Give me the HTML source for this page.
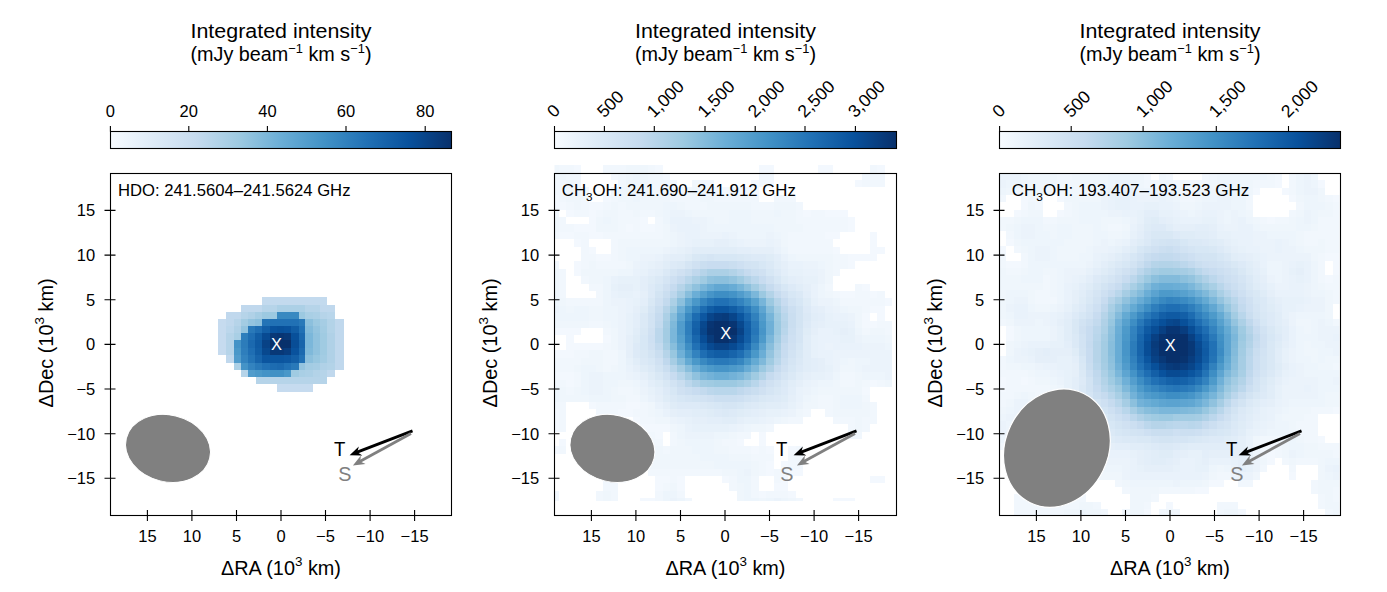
<!DOCTYPE html><html><head><meta charset="utf-8"><style>html,body{margin:0;padding:0;background:#fff;overflow:hidden}svg{display:block}</style></head><body>
<svg width="1387" height="592" viewBox="0 0 1387 592" font-family="Liberation Sans">
<defs><linearGradient id="gb" x1="0" x2="1" y1="0" y2="0"><stop offset="0.000" stop-color="#f7fbff"/><stop offset="0.125" stop-color="#deebf7"/><stop offset="0.250" stop-color="#c6dbef"/><stop offset="0.375" stop-color="#9ecae1"/><stop offset="0.500" stop-color="#6baed6"/><stop offset="0.625" stop-color="#4292c6"/><stop offset="0.750" stop-color="#2171b5"/><stop offset="0.875" stop-color="#08519c"/><stop offset="1.000" stop-color="#08306b"/></linearGradient></defs>
<g shape-rendering="crispEdges">
<path fill="#c6dbef" d="M218.1 319.1h8.3v6.8h-8.3zM218.1 325.9h8.3v7.2h-8.3zM218.1 333.1h8.3v7.3h-8.3zM218.1 340.4h8.3v7.4h-8.3zM218.1 347.8h8.3v7.5h-8.3zM276.8 383.8h35.8v7.7h-35.8z"/>
<path fill="#c3daee" d="M262.3 297.1h64.7v7.7h-64.7z"/>
<path fill="#c0d8ed" d="M241.1 304.8h21.2v6.9h-21.2zM319.8 304.8h15.0v6.9h-15.0zM226.4 311.7h14.7v7.4h-14.7zM226.4 319.1h7.4v6.8h-7.4zM334.8 319.1h8.7v6.8h-8.7zM334.8 325.9h8.7v7.2h-8.7zM334.8 333.1h8.7v7.3h-8.7zM334.8 340.4h8.7v7.4h-8.7zM334.8 347.8h8.7v7.5h-8.7zM226.4 355.3h7.4v7.3h-7.4zM334.8 355.3h8.7v7.3h-8.7zM334.8 362.6h8.7v6.9h-8.7zM327 369.5h7.8v7.2h-7.8z"/>
<path fill="#bcd7ec" d="M226.4 325.9h7.4v7.2h-7.4z"/>
<path fill="#b9d6eb" d="M327 311.7h7.8v7.4h-7.8z"/>
<path fill="#b6d4e9" d="M262.3 304.8h14.5v6.9h-14.5zM305.3 304.8h14.5v6.9h-14.5zM241.1 311.7h7.2v7.4h-7.2zM319.8 311.7h7.2v7.4h-7.2zM233.8 319.1h7.3v6.8h-7.3zM226.4 333.1h7.4v7.3h-7.4zM226.4 340.4h7.4v7.4h-7.4zM226.4 347.8h7.4v7.5h-7.4zM241.1 369.5h7.2v7.2h-7.2zM319.8 369.5h7.2v7.2h-7.2zM255.5 376.7h71.5v7.1h-71.5z"/>
<path fill="#b3d3e8" d="M327 319.1h7.8v6.8h-7.8zM327 325.9h7.8v7.2h-7.8zM327 362.6h7.8v6.9h-7.8zM312.6 369.5h7.2v7.2h-7.2z"/>
<path fill="#b0d1e7" d="M248.3 311.7h7.2v7.4h-7.2zM233.8 325.9h7.3v7.2h-7.3zM327 333.1h7.8v7.3h-7.8zM327 340.4h7.8v7.4h-7.8zM327 347.8h7.8v7.5h-7.8zM327 355.3h7.8v7.3h-7.8zM319.8 362.6h7.2v6.9h-7.2z"/>
<path fill="#acd0e6" d="M276.8 304.8h28.5v6.9h-28.5zM312.6 311.7h7.2v7.4h-7.2zM233.8 362.6h7.3v6.9h-7.3zM305.3 369.5h7.3v7.2h-7.3z"/>
<path fill="#a9cfe5" d="M305.3 311.7h7.3v7.4h-7.3zM233.8 333.1h7.3v7.3h-7.3zM299 369.5h6.3v7.2h-6.3z"/>
<path fill="#a6cde4" d="M255.5 311.7h6.8v7.4h-6.8zM319.8 319.1h7.2v6.8h-7.2zM312.6 362.6h7.2v6.9h-7.2z"/>
<path fill="#a3cce3" d="M241.1 319.1h7.2v6.8h-7.2zM319.8 325.9h7.2v7.2h-7.2zM319.8 355.3h7.2v7.3h-7.2zM305.3 362.6h7.3v6.9h-7.3z"/>
<path fill="#a0cbe2" d="M319.8 333.1h7.2v7.3h-7.2zM319.8 340.4h7.2v7.4h-7.2zM319.8 347.8h7.2v7.5h-7.2zM291.3 369.5h7.7v7.2h-7.7z"/>
<path fill="#9cc9e1" d="M262.3 311.7h14.5v7.4h-14.5zM299 311.7h6.3v7.4h-6.3zM312.6 319.1h7.2v6.8h-7.2z"/>
<path fill="#98c7e0" d="M312.6 355.3h7.2v7.3h-7.2z"/>
<path fill="#94c4df" d="M248.3 319.1h7.2v6.8h-7.2zM241.1 325.9h7.2v7.2h-7.2zM312.6 325.9h7.2v7.2h-7.2zM299 362.6h6.3v6.9h-6.3z"/>
<path fill="#90c2de" d="M312.6 333.1h7.2v7.3h-7.2zM312.6 340.4h7.2v7.4h-7.2zM312.6 347.8h7.2v7.5h-7.2z"/>
<path fill="#8cc0dd" d="M255.5 319.1h6.8v6.8h-6.8zM305.3 319.1h7.3v6.8h-7.3zM305.3 355.3h7.3v7.3h-7.3z"/>
<path fill="#83bbdb" d="M305.3 325.9h7.3v7.2h-7.3z"/>
<path fill="#7fb9da" d="M305.3 347.8h7.3v7.5h-7.3z"/>
<path fill="#7bb7da" d="M305.3 333.1h7.3v7.3h-7.3zM305.3 340.4h7.3v7.4h-7.3z"/>
<path fill="#519ccc" d="M233.8 355.3h7.3v7.3h-7.3zM248.3 369.5h7.2v7.2h-7.2z"/>
<path fill="#4a98c9" d="M233.8 347.8h7.3v7.5h-7.3zM255.5 369.5h6.8v7.2h-6.8zM284 369.5h7.3v7.2h-7.3z"/>
<path fill="#4493c7" d="M233.8 340.4h7.3v7.4h-7.3zM241.1 362.6h7.2v6.9h-7.2zM262.3 369.5h7.3v7.2h-7.3z"/>
<path fill="#4191c5" d="M269.6 369.5h14.4v7.2h-14.4z"/>
<path fill="#3989c1" d="M276.8 311.7h22.2v7.4h-22.2z"/>
<path fill="#3383bf" d="M241.1 355.3h7.2v7.3h-7.2zM248.3 362.6h7.2v6.9h-7.2z"/>
<path fill="#2e7ebc" d="M241.1 333.1h7.2v7.3h-7.2zM241.1 347.8h7.2v7.5h-7.2z"/>
<path fill="#2c7cba" d="M241.1 340.4h7.2v7.4h-7.2z"/>
<path fill="#2979b9" d="M299 319.1h6.3v6.8h-6.3zM248.3 325.9h7.2v7.2h-7.2zM255.5 362.6h6.8v6.9h-6.8zM291.3 362.6h7.7v6.9h-7.7z"/>
<path fill="#2474b6" d="M262.3 319.1h7.3v6.8h-7.3zM248.3 355.3h7.2v7.3h-7.2z"/>
<path fill="#2171b5" d="M269.6 319.1h29.4v6.8h-29.4zM299 325.9h6.3v7.2h-6.3zM299 355.3h6.3v7.3h-6.3zM262.3 362.6h7.3v6.9h-7.3zM284 362.6h7.3v6.9h-7.3z"/>
<path fill="#1f6eb3" d="M255.5 325.9h6.8v7.2h-6.8zM248.3 333.1h7.2v7.3h-7.2zM248.3 347.8h7.2v7.5h-7.2z"/>
<path fill="#1d6cb1" d="M269.6 362.6h7.2v6.9h-7.2z"/>
<path fill="#1b69af" d="M299 333.1h6.3v7.3h-6.3zM248.3 340.4h7.2v7.4h-7.2zM299 347.8h6.3v7.5h-6.3zM276.8 362.6h7.2v6.9h-7.2z"/>
<path fill="#1764ab" d="M299 340.4h6.3v7.4h-6.3zM255.5 355.3h6.8v7.3h-6.8z"/>
<path fill="#135fa7" d="M262.3 325.9h7.3v7.2h-7.3zM291.3 355.3h7.7v7.3h-7.7z"/>
<path fill="#115da5" d="M291.3 325.9h7.7v7.2h-7.7zM255.5 333.1h6.8v7.3h-6.8zM255.5 347.8h6.8v7.5h-6.8z"/>
<path fill="#0f5aa3" d="M255.5 340.4h6.8v7.4h-6.8z"/>
<path fill="#0d57a1" d="M284 355.3h7.3v7.3h-7.3z"/>
<path fill="#0b559f" d="M262.3 355.3h21.7v7.3h-21.7z"/>
<path fill="#09529d" d="M269.6 325.9h7.2v7.2h-7.2zM284 325.9h7.3v7.2h-7.3zM291.3 347.8h7.7v7.5h-7.7z"/>
<path fill="#08509a" d="M276.8 325.9h7.2v7.2h-7.2zM291.3 333.1h7.7v7.3h-7.7z"/>
<path fill="#084d96" d="M291.3 340.4h7.7v7.4h-7.7z"/>
<path fill="#084a92" d="M262.3 333.1h7.3v7.3h-7.3z"/>
<path fill="#08488e" d="M262.3 347.8h7.3v7.5h-7.3z"/>
<path fill="#084286" d="M262.3 340.4h7.3v7.4h-7.3z"/>
<path fill="#083d7f" d="M284 347.8h7.3v7.5h-7.3z"/>
<path fill="#083877" d="M269.6 333.1h7.2v7.3h-7.2zM284 333.1h7.3v7.3h-7.3zM269.6 347.8h14.4v7.5h-14.4z"/>
<path fill="#083573" d="M276.8 333.1h7.2v7.3h-7.2z"/>
<path fill="#08306b" d="M269.6 340.4h21.7v7.4h-21.7z"/>
</g>
<clipPath id="c2"><rect x="554.5" y="165" width="339" height="336"/></clipPath><g clip-path="url(#c2)">
<g transform="translate(551.60,165.10) scale(7.4000,7.4000)" shape-rendering="crispEdges">
<path fill="#f3f8fe" d="M3 0h1v1h-1zM14 0h1v1h-1zM28 0h2v1h-2zM36 0h2v1h-2zM44 0h1v1h-1zM8 1h1v1h-1zM15 1h1v1h-1zM16 2h1v1h-1zM27 2h1v1h-1zM29 2h1v1h-1zM41 2h1v1h-1zM4 3h1v1h-1zM17 3h1v1h-1zM22 3h2v1h-2zM25 3h3v1h-3zM0 4h1v1h-1zM7 4h1v1h-1zM0 5h2v1h-2zM5 5h2v1h-2zM2 6h1v1h-1zM5 6h1v1h-1zM34 6h1v1h-1zM37 6h3v1h-3zM5 7h1v1h-1zM12 7h1v1h-1zM40 7h1v1h-1zM3 8h3v1h-3zM10 8h1v1h-1zM12 8h2v1h-2zM40 8h1v1h-1zM1 9h2v1h-2zM5 9h2v1h-2zM37 9h2v1h-2zM43 9h1v1h-1zM3 10h1v1h-1zM43 10h1v1h-1zM5 11h1v1h-1zM38 11h1v1h-1zM43 11h2v1h-2zM6 12h2v1h-2zM40 12h4v1h-4zM3 13h1v1h-1zM40 13h1v1h-1zM3 14h1v1h-1zM42 16h1v1h-1zM39 17h2v1h-2zM43 17h1v1h-1zM45 18h1v1h-1zM43 19h2v1h-2zM42 20h1v1h-1zM44 20h1v1h-1zM42 21h2v1h-2zM0 22h4v1h-4zM2 23h1v1h-1zM7 23h1v1h-1zM2 24h5v1h-5zM0 25h3v1h-3zM0 28h3v1h-3zM2 29h1v1h-1zM43 29h1v1h-1zM42 30h1v1h-1zM5 32h1v1h-1zM10 32h2v1h-2zM0 33h1v1h-1zM9 33h2v1h-2zM0 34h1v1h-1zM7 34h1v1h-1zM11 34h1v1h-1zM0 35h1v1h-1zM12 35h4v1h-4zM12 36h1v1h-1zM14 36h1v1h-1zM28 36h1v1h-1zM1 37h1v1h-1zM25 37h1v1h-1zM28 37h1v1h-1zM0 38h1v1h-1zM27 38h1v1h-1zM29 38h1v1h-1zM32 38h1v1h-1zM5 40h2v1h-2zM9 40h1v1h-1zM29 40h1v1h-1zM31 40h1v1h-1zM5 41h1v1h-1zM8 41h2v1h-2zM29 41h1v1h-1zM32 41h2v1h-2zM9 42h1v1h-1zM14 42h2v1h-2zM17 42h1v1h-1zM23 42h1v1h-1zM31 42h1v1h-1zM43 42h2v1h-2zM14 43h1v1h-1zM17 43h1v1h-1zM30 43h2v1h-2zM28 44h1v1h-1zM32 44h1v1h-1zM12 45h2v1h-2zM38 45h3v1h-3z"/>
<path fill="#f1f7fd" d="M1 0h2v1h-2zM7 0h3v1h-3zM13 0h1v1h-1zM43 0h1v1h-1zM2 1h2v1h-2zM9 1h1v1h-1zM13 1h2v1h-2zM28 1h2v1h-2zM42 1h3v1h-3zM0 2h2v1h-2zM3 2h1v1h-1zM9 2h1v1h-1zM13 2h3v1h-3zM19 2h3v1h-3zM28 2h1v1h-1zM42 2h3v1h-3zM0 3h2v1h-2zM8 3h1v1h-1zM13 3h4v1h-4zM18 3h1v1h-1zM21 3h1v1h-1zM24 3h1v1h-1zM1 4h1v1h-1zM4 4h1v1h-1zM8 4h1v1h-1zM16 4h4v1h-4zM22 4h6v1h-6zM30 4h3v1h-3zM2 5h1v1h-1zM4 5h1v1h-1zM7 5h1v1h-1zM9 5h1v1h-1zM18 5h3v1h-3zM27 5h3v1h-3zM33 5h1v1h-1zM0 6h1v1h-1zM3 6h2v1h-2zM6 6h1v1h-1zM9 6h2v1h-2zM12 6h2v1h-2zM33 6h1v1h-1zM35 6h2v1h-2zM1 7h1v1h-1zM9 7h3v1h-3zM14 7h1v1h-1zM33 7h7v1h-7zM1 8h2v1h-2zM9 8h1v1h-1zM11 8h1v1h-1zM14 8h1v1h-1zM34 8h6v1h-6zM0 9h1v1h-1zM3 9h2v1h-2zM7 9h8v1h-8zM32 9h5v1h-5zM4 10h1v1h-1zM8 10h1v1h-1zM32 10h6v1h-6zM4 11h1v1h-1zM8 11h1v1h-1zM32 11h6v1h-6zM4 12h2v1h-2zM8 12h1v1h-1zM38 12h2v1h-2zM0 13h1v1h-1zM4 13h1v1h-1zM6 13h4v1h-4zM38 13h2v1h-2zM1 14h1v1h-1zM38 14h1v1h-1zM1 15h1v1h-1zM4 15h1v1h-1zM1 16h1v1h-1zM5 16h2v1h-2zM37 16h1v1h-1zM41 16h1v1h-1zM1 17h1v1h-1zM6 17h1v1h-1zM38 17h1v1h-1zM41 17h2v1h-2zM44 17h1v1h-1zM2 18h5v1h-5zM39 18h6v1h-6zM42 19h1v1h-1zM5 21h2v1h-2zM44 21h2v1h-2zM7 22h1v1h-1zM42 22h1v1h-1zM45 22h1v1h-1zM7 24h1v1h-1zM3 25h2v1h-2zM7 25h2v1h-2zM0 26h4v1h-4zM7 26h2v1h-2zM0 27h3v1h-3zM7 27h1v1h-1zM3 28h1v1h-1zM39 28h2v1h-2zM0 29h2v1h-2zM3 29h1v1h-1zM39 29h2v1h-2zM42 29h1v1h-1zM44 29h1v1h-1zM2 30h1v1h-1zM9 30h2v1h-2zM10 31h2v1h-2zM36 31h2v1h-2zM42 31h1v1h-1zM0 32h2v1h-2zM6 32h4v1h-4zM12 32h1v1h-1zM36 32h2v1h-2zM43 32h1v1h-1zM1 33h1v1h-1zM6 33h3v1h-3zM11 33h2v1h-2zM34 33h1v1h-1zM37 33h1v1h-1zM43 33h1v1h-1zM1 34h1v1h-1zM12 34h2v1h-2zM32 34h2v1h-2zM38 34h3v1h-3zM42 34h2v1h-2zM1 35h1v1h-1zM29 35h1v1h-1zM40 35h1v1h-1zM42 35h1v1h-1zM13 36h1v1h-1zM16 36h1v1h-1zM25 36h2v1h-2zM40 36h2v1h-2zM9 37h6v1h-6zM16 37h1v1h-1zM23 37h2v1h-2zM1 38h1v1h-1zM9 38h1v1h-1zM15 38h1v1h-1zM24 38h3v1h-3zM28 38h1v1h-1zM33 38h1v1h-1zM9 39h3v1h-3zM27 39h3v1h-3zM32 39h2v1h-2zM10 40h3v1h-3zM28 40h1v1h-1zM32 40h2v1h-2zM6 41h2v1h-2zM13 41h10v1h-10zM28 41h1v1h-1zM30 41h2v1h-2zM7 42h2v1h-2zM16 42h1v1h-1zM24 42h1v1h-1zM27 42h1v1h-1zM30 42h1v1h-1zM7 43h2v1h-2zM15 43h1v1h-1zM24 43h1v1h-1zM27 43h1v1h-1zM0 44h1v1h-1zM6 44h1v1h-1zM8 44h1v1h-1zM14 44h1v1h-1zM17 44h1v1h-1zM27 44h1v1h-1zM29 44h3v1h-3zM0 45h1v1h-1zM6 45h1v1h-1zM8 45h1v1h-1zM14 45h1v1h-1zM18 45h1v1h-1zM33 45h1v1h-1z"/>
<path fill="#eff6fc" d="M0 0h1v1h-1zM10 0h3v1h-3zM0 1h2v1h-2zM10 1h1v1h-1zM12 1h1v1h-1zM2 2h1v1h-1zM12 2h1v1h-1zM2 3h2v1h-2zM9 3h1v1h-1zM12 3h1v1h-1zM19 3h2v1h-2zM2 4h2v1h-2zM9 4h2v1h-2zM12 4h4v1h-4zM20 4h2v1h-2zM3 5h1v1h-1zM8 5h1v1h-1zM10 5h5v1h-5zM17 5h1v1h-1zM21 5h6v1h-6zM30 5h3v1h-3zM7 6h2v1h-2zM11 6h1v1h-1zM14 6h1v1h-1zM19 6h5v1h-5zM27 6h3v1h-3zM31 6h2v1h-2zM0 7h1v1h-1zM6 7h1v1h-1zM8 7h1v1h-1zM22 7h2v1h-2zM27 7h6v1h-6zM0 8h1v1h-1zM6 8h3v1h-3zM15 8h1v1h-1zM30 8h4v1h-4zM15 9h1v1h-1zM31 9h1v1h-1zM9 10h7v1h-7zM31 10h1v1h-1zM9 11h1v1h-1zM9 12h1v1h-1zM33 12h5v1h-5zM5 13h1v1h-1zM10 13h1v1h-1zM37 13h1v1h-1zM0 14h1v1h-1zM4 14h5v1h-5zM37 14h1v1h-1zM0 15h1v1h-1zM5 15h2v1h-2zM37 15h1v1h-1zM0 16h1v1h-1zM0 17h1v1h-1zM37 17h1v1h-1zM1 18h1v1h-1zM2 19h1v1h-1zM5 19h2v1h-2zM40 19h2v1h-2zM5 20h2v1h-2zM41 20h1v1h-1zM0 21h5v1h-5zM7 21h1v1h-1zM41 21h1v1h-1zM8 22h1v1h-1zM43 22h2v1h-2zM8 23h1v1h-1zM45 23h1v1h-1zM8 24h1v1h-1zM5 25h2v1h-2zM4 26h3v1h-3zM40 26h1v1h-1zM3 27h1v1h-1zM6 27h1v1h-1zM8 27h1v1h-1zM39 27h2v1h-2zM41 28h1v1h-1zM9 29h2v1h-2zM38 29h1v1h-1zM41 29h1v1h-1zM45 29h1v1h-1zM1 30h1v1h-1zM3 30h1v1h-1zM8 30h1v1h-1zM11 30h1v1h-1zM36 30h6v1h-6zM1 31h4v1h-4zM8 31h2v1h-2zM35 31h1v1h-1zM38 31h1v1h-1zM13 32h1v1h-1zM34 32h2v1h-2zM38 32h1v1h-1zM42 32h1v1h-1zM13 33h1v1h-1zM33 33h1v1h-1zM38 33h5v1h-5zM14 34h2v1h-2zM31 34h1v1h-1zM41 34h1v1h-1zM16 35h1v1h-1zM27 35h2v1h-2zM41 35h1v1h-1zM24 36h1v1h-1zM17 37h1v1h-1zM22 37h1v1h-1zM10 38h5v1h-5zM16 38h3v1h-3zM22 38h2v1h-2zM12 39h8v1h-8zM24 39h3v1h-3zM13 40h9v1h-9zM27 40h1v1h-1zM23 41h2v1h-2zM27 41h1v1h-1zM16 43h1v1h-1zM25 43h1v1h-1zM7 44h1v1h-1zM25 44h1v1h-1zM7 45h1v1h-1zM25 45h1v1h-1zM28 45h1v1h-1zM32 45h1v1h-1z"/>
<path fill="#edf5fc" d="M11 1h1v1h-1zM10 2h2v1h-2zM10 3h2v1h-2zM11 4h1v1h-1zM15 5h2v1h-2zM15 6h1v1h-1zM18 6h1v1h-1zM24 6h3v1h-3zM30 6h1v1h-1zM7 7h1v1h-1zM15 7h1v1h-1zM21 7h1v1h-1zM24 7h3v1h-3zM21 8h9v1h-9zM16 9h1v1h-1zM25 9h4v1h-4zM30 9h1v1h-1zM16 10h1v1h-1zM10 11h5v1h-5zM31 11h1v1h-1zM10 12h2v1h-2zM32 12h1v1h-1zM36 13h1v1h-1zM9 14h2v1h-2zM7 15h1v1h-1zM7 16h1v1h-1zM36 16h1v1h-1zM7 17h1v1h-1zM36 17h1v1h-1zM0 18h1v1h-1zM7 18h1v1h-1zM38 18h1v1h-1zM1 19h1v1h-1zM3 19h2v1h-2zM7 19h2v1h-2zM39 19h1v1h-1zM0 20h5v1h-5zM7 20h2v1h-2zM8 21h1v1h-1zM41 22h1v1h-1zM42 23h3v1h-3zM45 24h1v1h-1zM9 25h1v1h-1zM9 26h1v1h-1zM39 26h1v1h-1zM41 26h2v1h-2zM4 27h2v1h-2zM9 27h1v1h-1zM41 27h1v1h-1zM4 28h1v1h-1zM7 28h3v1h-3zM38 28h1v1h-1zM42 28h3v1h-3zM4 29h1v1h-1zM7 29h2v1h-2zM11 29h1v1h-1zM36 29h2v1h-2zM0 30h1v1h-1zM4 30h1v1h-1zM7 30h1v1h-1zM35 30h1v1h-1zM0 31h1v1h-1zM5 31h3v1h-3zM12 31h1v1h-1zM34 31h1v1h-1zM39 31h3v1h-3zM39 32h3v1h-3zM14 33h1v1h-1zM30 34h1v1h-1zM17 35h1v1h-1zM26 35h1v1h-1zM17 36h1v1h-1zM22 36h2v1h-2zM18 37h4v1h-4zM19 38h3v1h-3zM20 39h4v1h-4zM22 40h5v1h-5zM25 41h1v1h-1zM25 42h2v1h-2zM26 43h1v1h-1zM15 44h2v1h-2zM26 44h1v1h-1zM15 45h1v1h-1zM17 45h1v1h-1zM26 45h2v1h-2zM29 45h1v1h-1zM31 45h1v1h-1z"/>
<path fill="#ebf3fb" d="M16 6h2v1h-2zM19 7h2v1h-2zM16 8h1v1h-1zM20 8h1v1h-1zM17 9h1v1h-1zM20 9h3v1h-3zM24 9h1v1h-1zM29 9h1v1h-1zM17 10h1v1h-1zM26 10h3v1h-3zM30 10h1v1h-1zM15 11h1v1h-1zM12 12h2v1h-2zM11 13h1v1h-1zM34 13h2v1h-2zM36 14h1v1h-1zM36 15h1v1h-1zM8 18h2v1h-2zM36 18h2v1h-2zM0 19h1v1h-1zM9 19h1v1h-1zM38 19h1v1h-1zM9 20h1v1h-1zM40 20h1v1h-1zM9 21h1v1h-1zM9 22h1v1h-1zM9 23h1v1h-1zM41 23h1v1h-1zM9 24h1v1h-1zM37 24h1v1h-1zM42 24h3v1h-3zM38 25h8v1h-8zM38 26h1v1h-1zM43 26h3v1h-3zM38 27h1v1h-1zM42 27h4v1h-4zM5 28h2v1h-2zM10 28h1v1h-1zM45 28h1v1h-1zM5 29h2v1h-2zM35 29h1v1h-1zM5 30h2v1h-2zM12 30h1v1h-1zM34 30h1v1h-1zM33 32h1v1h-1zM32 33h1v1h-1zM16 34h1v1h-1zM29 34h1v1h-1zM25 35h1v1h-1zM18 36h4v1h-4zM26 41h1v1h-1zM16 45h1v1h-1zM30 45h1v1h-1z"/>
<path fill="#e9f2fb" d="M16 7h3v1h-3zM17 8h3v1h-3zM18 9h2v1h-2zM23 9h1v1h-1zM18 10h1v1h-1zM25 10h1v1h-1zM29 10h1v1h-1zM16 11h1v1h-1zM30 11h1v1h-1zM14 12h1v1h-1zM31 12h1v1h-1zM12 13h1v1h-1zM32 13h2v1h-2zM11 14h1v1h-1zM34 14h2v1h-2zM8 15h1v1h-1zM35 16h1v1h-1zM8 17h1v1h-1zM11 17h1v1h-1zM35 17h1v1h-1zM10 18h1v1h-1zM10 19h1v1h-1zM37 19h1v1h-1zM38 20h2v1h-2zM40 21h1v1h-1zM36 22h2v1h-2zM36 23h3v1h-3zM36 24h1v1h-1zM38 24h4v1h-4zM36 25h2v1h-2zM37 26h1v1h-1zM10 27h1v1h-1zM11 28h1v1h-1zM37 28h1v1h-1zM12 29h1v1h-1zM34 29h1v1h-1zM33 30h1v1h-1zM13 31h1v1h-1zM33 31h1v1h-1zM14 32h1v1h-1zM15 33h1v1h-1zM31 33h1v1h-1zM17 34h1v1h-1zM28 34h1v1h-1zM18 35h1v1h-1zM24 35h1v1h-1z"/>
<path fill="#e7f1fa" d="M19 10h3v1h-3zM24 10h1v1h-1zM17 11h1v1h-1zM13 13h1v1h-1zM12 14h1v1h-1zM32 14h2v1h-2zM9 15h3v1h-3zM34 15h2v1h-2zM8 16h1v1h-1zM11 16h1v1h-1zM9 17h2v1h-2zM11 18h1v1h-1zM35 18h1v1h-1zM10 20h1v1h-1zM37 20h1v1h-1zM10 21h1v1h-1zM37 21h3v1h-3zM10 22h1v1h-1zM38 22h1v1h-1zM40 22h1v1h-1zM35 23h1v1h-1zM39 23h2v1h-2zM35 24h1v1h-1zM35 25h1v1h-1zM10 26h1v1h-1zM37 27h1v1h-1zM35 28h2v1h-2zM13 30h1v1h-1zM32 32h1v1h-1zM29 33h2v1h-2zM18 34h1v1h-1zM26 34h2v1h-2zM19 35h5v1h-5z"/>
<path fill="#e5eff9" d="M22 10h2v1h-2zM18 11h1v1h-1zM27 11h3v1h-3zM15 12h1v1h-1zM14 13h1v1h-1zM31 13h1v1h-1zM33 15h1v1h-1zM9 16h2v1h-2zM34 16h1v1h-1zM12 17h1v1h-1zM11 19h1v1h-1zM36 19h1v1h-1zM36 21h1v1h-1zM35 22h1v1h-1zM39 22h1v1h-1zM10 23h1v1h-1zM10 24h1v1h-1zM10 25h1v1h-1zM36 26h1v1h-1zM11 27h1v1h-1zM36 27h1v1h-1zM12 28h1v1h-1zM34 28h1v1h-1zM33 29h1v1h-1zM14 31h1v1h-1zM32 31h1v1h-1zM15 32h1v1h-1zM16 33h1v1h-1zM28 33h1v1h-1zM19 34h2v1h-2zM25 34h1v1h-1z"/>
<path fill="#e3eef9" d="M25 11h2v1h-2zM16 12h2v1h-2zM30 12h1v1h-1zM13 14h1v1h-1zM31 14h1v1h-1zM12 15h1v1h-1zM32 15h1v1h-1zM12 16h1v1h-1zM34 17h1v1h-1zM12 18h1v1h-1zM35 19h1v1h-1zM11 20h1v1h-1zM36 20h1v1h-1zM11 21h1v1h-1zM35 21h1v1h-1zM35 26h1v1h-1zM35 27h1v1h-1zM13 29h1v1h-1zM14 30h1v1h-1zM32 30h1v1h-1zM31 32h1v1h-1zM17 33h2v1h-2zM27 33h1v1h-1zM21 34h2v1h-2z"/>
<path fill="#e1edf8" d="M19 11h6v1h-6zM15 13h1v1h-1zM30 13h1v1h-1zM14 14h1v1h-1zM33 16h1v1h-1zM35 20h1v1h-1zM11 22h1v1h-1zM34 23h1v1h-1zM34 24h1v1h-1zM34 25h1v1h-1zM11 26h1v1h-1zM34 26h1v1h-1zM34 27h1v1h-1zM33 28h1v1h-1zM32 29h1v1h-1zM29 32h2v1h-2zM19 33h2v1h-2zM26 33h1v1h-1zM23 34h2v1h-2z"/>
<path fill="#dfecf7" d="M18 12h1v1h-1zM29 12h1v1h-1zM13 15h1v1h-1zM31 15h1v1h-1zM34 18h1v1h-1zM12 19h1v1h-1zM34 22h1v1h-1zM11 23h1v1h-1zM12 27h1v1h-1zM13 28h1v1h-1zM14 29h1v1h-1zM15 31h1v1h-1zM31 31h1v1h-1zM16 32h1v1h-1zM28 32h1v1h-1zM21 33h1v1h-1zM25 33h1v1h-1z"/>
<path fill="#ddeaf7" d="M27 12h2v1h-2zM16 13h1v1h-1zM30 14h1v1h-1zM13 16h1v1h-1zM32 16h1v1h-1zM13 17h1v1h-1zM34 19h1v1h-1zM34 21h1v1h-1zM11 24h1v1h-1zM11 25h1v1h-1zM33 27h1v1h-1zM15 30h1v1h-1zM31 30h1v1h-1zM30 31h1v1h-1zM17 32h3v1h-3zM27 32h1v1h-1zM22 33h1v1h-1zM24 33h1v1h-1z"/>
<path fill="#dbe9f6" d="M26 12h1v1h-1zM17 13h1v1h-1zM29 13h1v1h-1zM15 14h1v1h-1zM14 15h1v1h-1zM33 17h1v1h-1zM12 20h1v1h-1zM34 20h1v1h-1zM12 21h1v1h-1zM12 26h1v1h-1zM33 26h1v1h-1zM13 27h1v1h-1zM32 28h1v1h-1zM31 29h1v1h-1zM16 31h1v1h-1zM29 31h1v1h-1zM20 32h1v1h-1zM26 32h1v1h-1zM23 33h1v1h-1z"/>
<path fill="#d9e8f5" d="M19 12h1v1h-1zM25 12h1v1h-1zM13 18h1v1h-1zM12 22h1v1h-1zM12 25h1v1h-1zM33 25h1v1h-1zM14 28h1v1h-1zM15 29h1v1h-1zM30 30h1v1h-1zM28 31h1v1h-1zM21 32h1v1h-1z"/>
<path fill="#d7e7f5" d="M20 12h1v1h-1zM22 12h3v1h-3zM28 13h1v1h-1zM29 14h1v1h-1zM30 15h1v1h-1zM14 16h1v1h-1zM31 16h1v1h-1zM32 17h1v1h-1zM33 18h1v1h-1zM12 23h1v1h-1zM12 24h1v1h-1zM33 24h1v1h-1zM13 26h1v1h-1zM32 27h1v1h-1zM16 30h1v1h-1zM17 31h1v1h-1zM22 32h1v1h-1zM25 32h1v1h-1z"/>
<path fill="#d5e5f4" d="M21 12h1v1h-1zM18 13h1v1h-1zM16 14h1v1h-1zM15 15h1v1h-1zM13 19h1v1h-1zM33 22h1v1h-1zM33 23h1v1h-1zM32 26h1v1h-1zM31 28h1v1h-1zM30 29h1v1h-1zM29 30h1v1h-1zM18 31h1v1h-1zM27 31h1v1h-1zM23 32h2v1h-2z"/>
<path fill="#d3e4f3" d="M27 13h1v1h-1zM14 17h1v1h-1zM33 19h1v1h-1zM33 20h1v1h-1zM33 21h1v1h-1zM13 25h1v1h-1zM14 27h1v1h-1zM19 31h1v1h-1z"/>
<path fill="#d2e3f3" d="M26 13h1v1h-1zM32 18h1v1h-1zM13 20h1v1h-1zM13 21h1v1h-1zM32 25h1v1h-1zM15 28h1v1h-1zM16 29h1v1h-1zM20 31h1v1h-1zM26 31h1v1h-1z"/>
<path fill="#d0e1f2" d="M19 13h1v1h-1zM17 14h1v1h-1zM28 14h1v1h-1zM29 15h1v1h-1zM15 16h1v1h-1zM30 16h1v1h-1zM31 17h1v1h-1zM14 18h1v1h-1zM13 22h1v1h-1zM13 24h1v1h-1zM32 24h1v1h-1zM14 26h1v1h-1zM31 27h1v1h-1zM29 29h1v1h-1zM17 30h1v1h-1zM28 30h1v1h-1zM21 31h1v1h-1z"/>
<path fill="#cee0f2" d="M25 13h1v1h-1zM16 15h1v1h-1zM13 23h1v1h-1zM32 23h1v1h-1zM30 28h1v1h-1zM25 31h1v1h-1z"/>
<path fill="#ccdff1" d="M27 14h1v1h-1zM32 19h1v1h-1zM32 22h1v1h-1zM31 26h1v1h-1zM18 30h1v1h-1zM22 31h3v1h-3z"/>
<path fill="#cadef0" d="M20 13h1v1h-1zM24 13h1v1h-1zM18 14h1v1h-1zM15 17h1v1h-1zM14 19h1v1h-1zM32 20h1v1h-1zM32 21h1v1h-1zM14 25h1v1h-1zM15 27h1v1h-1zM17 29h1v1h-1zM27 30h1v1h-1z"/>
<path fill="#c8dcf0" d="M21 13h3v1h-3zM28 15h1v1h-1zM31 18h1v1h-1zM31 25h1v1h-1zM16 28h1v1h-1zM28 29h1v1h-1zM19 30h1v1h-1z"/>
<path fill="#c6dbef" d="M26 14h1v1h-1zM17 15h1v1h-1zM16 16h1v1h-1zM29 16h1v1h-1zM30 17h1v1h-1zM14 20h1v1h-1zM31 24h1v1h-1zM30 27h1v1h-1zM29 28h1v1h-1zM26 30h1v1h-1z"/>
<path fill="#c3daee" d="M15 18h1v1h-1zM14 21h1v1h-1zM14 24h1v1h-1zM20 30h1v1h-1z"/>
<path fill="#c0d8ed" d="M19 14h1v1h-1zM31 19h1v1h-1zM31 23h1v1h-1zM15 26h1v1h-1zM25 30h1v1h-1z"/>
<path fill="#bcd7ec" d="M25 14h1v1h-1zM27 15h1v1h-1zM16 17h1v1h-1zM14 22h1v1h-1zM14 23h1v1h-1zM18 29h1v1h-1zM21 30h1v1h-1z"/>
<path fill="#b9d6eb" d="M18 15h1v1h-1zM31 20h1v1h-1zM31 22h1v1h-1zM30 26h1v1h-1zM16 27h1v1h-1zM17 28h1v1h-1zM27 29h1v1h-1zM22 30h3v1h-3z"/>
<path fill="#b6d4e9" d="M20 14h1v1h-1zM17 16h1v1h-1zM28 16h1v1h-1zM30 18h1v1h-1zM15 19h1v1h-1zM31 21h1v1h-1zM15 25h1v1h-1z"/>
<path fill="#b3d3e8" d="M24 14h1v1h-1zM29 17h1v1h-1zM30 25h1v1h-1zM28 28h1v1h-1z"/>
<path fill="#b0d1e7" d="M26 15h1v1h-1zM29 27h1v1h-1zM19 29h1v1h-1z"/>
<path fill="#acd0e6" d="M21 14h3v1h-3zM19 15h1v1h-1zM16 18h1v1h-1zM15 20h1v1h-1zM30 24h1v1h-1zM26 29h1v1h-1z"/>
<path fill="#a9cfe5" d="M30 19h1v1h-1zM15 24h1v1h-1z"/>
<path fill="#a6cde4" d="M17 17h1v1h-1zM15 21h1v1h-1zM16 26h1v1h-1zM18 28h1v1h-1z"/>
<path fill="#a3cce3" d="M18 16h1v1h-1zM27 16h1v1h-1zM15 22h1v1h-1zM15 23h1v1h-1zM30 23h1v1h-1zM17 27h1v1h-1zM20 29h1v1h-1zM25 29h1v1h-1z"/>
<path fill="#a0cbe2" d="M20 15h1v1h-1zM25 15h1v1h-1zM30 20h1v1h-1zM29 26h1v1h-1zM27 28h1v1h-1zM21 29h1v1h-1z"/>
<path fill="#9cc9e1" d="M28 17h1v1h-1zM29 18h1v1h-1zM16 19h1v1h-1zM30 21h1v1h-1zM30 22h1v1h-1zM28 27h1v1h-1zM22 29h3v1h-3z"/>
<path fill="#98c7e0" d="M16 25h1v1h-1z"/>
<path fill="#94c4df" d="M24 15h1v1h-1zM29 25h1v1h-1z"/>
<path fill="#90c2de" d="M21 15h1v1h-1zM19 16h1v1h-1zM19 28h1v1h-1z"/>
<path fill="#8cc0dd" d="M22 15h2v1h-2zM26 16h1v1h-1zM17 18h1v1h-1zM26 28h1v1h-1z"/>
<path fill="#88bedc" d="M18 17h1v1h-1zM29 19h1v1h-1zM16 20h1v1h-1zM16 24h1v1h-1zM29 24h1v1h-1zM17 26h1v1h-1zM18 27h1v1h-1z"/>
<path fill="#7fb9da" d="M16 21h1v1h-1zM28 26h1v1h-1zM27 27h1v1h-1z"/>
<path fill="#7bb7da" d="M20 16h1v1h-1zM27 17h1v1h-1zM16 22h1v1h-1zM16 23h1v1h-1zM29 23h1v1h-1zM20 28h1v1h-1zM25 28h1v1h-1z"/>
<path fill="#77b5d9" d="M25 16h1v1h-1zM28 18h1v1h-1zM29 20h1v1h-1z"/>
<path fill="#73b2d8" d="M21 28h1v1h-1zM24 28h1v1h-1z"/>
<path fill="#6fb0d7" d="M17 19h1v1h-1zM29 21h1v1h-1zM29 22h1v1h-1zM17 25h1v1h-1z"/>
<path fill="#6baed6" d="M21 16h1v1h-1zM19 17h1v1h-1zM28 25h1v1h-1zM19 27h1v1h-1zM22 28h2v1h-2z"/>
<path fill="#68acd5" d="M24 16h1v1h-1zM26 27h1v1h-1z"/>
<path fill="#64aad3" d="M18 18h1v1h-1zM18 26h1v1h-1zM27 26h1v1h-1z"/>
<path fill="#61a7d2" d="M22 16h2v1h-2zM26 17h1v1h-1zM17 24h1v1h-1z"/>
<path fill="#5ea5d1" d="M28 19h1v1h-1zM17 20h1v1h-1zM28 24h1v1h-1z"/>
<path fill="#57a1ce" d="M20 17h1v1h-1zM27 18h1v1h-1zM17 23h1v1h-1zM20 27h1v1h-1z"/>
<path fill="#549ecd" d="M25 27h1v1h-1z"/>
<path fill="#519ccc" d="M25 17h1v1h-1zM28 20h1v1h-1zM17 21h1v1h-1zM17 22h1v1h-1z"/>
<path fill="#4d9aca" d="M28 23h1v1h-1zM18 25h1v1h-1zM21 27h1v1h-1zM24 27h1v1h-1z"/>
<path fill="#4a98c9" d="M19 18h1v1h-1zM18 19h1v1h-1zM28 21h1v1h-1zM27 25h1v1h-1zM19 26h1v1h-1zM26 26h1v1h-1z"/>
<path fill="#4795c8" d="M21 17h1v1h-1zM28 22h1v1h-1zM22 27h2v1h-2z"/>
<path fill="#4493c7" d="M24 17h1v1h-1z"/>
<path fill="#4191c5" d="M26 18h1v1h-1z"/>
<path fill="#3e8ec4" d="M22 17h2v1h-2zM27 19h1v1h-1zM18 24h1v1h-1z"/>
<path fill="#3989c1" d="M18 20h1v1h-1zM27 24h1v1h-1zM20 26h1v1h-1z"/>
<path fill="#3686c0" d="M20 18h1v1h-1zM25 26h1v1h-1z"/>
<path fill="#3383bf" d="M25 18h1v1h-1zM18 23h1v1h-1zM19 25h1v1h-1z"/>
<path fill="#3181bd" d="M19 19h1v1h-1zM27 20h1v1h-1zM26 25h1v1h-1z"/>
<path fill="#2e7ebc" d="M18 21h1v1h-1zM18 22h1v1h-1zM21 26h1v1h-1zM24 26h1v1h-1z"/>
<path fill="#2c7cba" d="M27 23h1v1h-1z"/>
<path fill="#2979b9" d="M21 18h1v1h-1zM24 18h1v1h-1zM26 19h1v1h-1zM27 21h1v1h-1zM22 26h2v1h-2z"/>
<path fill="#2676b8" d="M27 22h1v1h-1z"/>
<path fill="#2171b5" d="M22 18h2v1h-2zM19 24h1v1h-1z"/>
<path fill="#1f6eb3" d="M20 25h1v1h-1zM25 25h1v1h-1z"/>
<path fill="#1d6cb1" d="M20 19h1v1h-1zM19 20h1v1h-1zM26 24h1v1h-1z"/>
<path fill="#1b69af" d="M25 19h1v1h-1zM26 20h1v1h-1z"/>
<path fill="#1967ad" d="M19 23h1v1h-1z"/>
<path fill="#1764ab" d="M24 25h1v1h-1z"/>
<path fill="#1562a9" d="M19 21h1v1h-1zM21 25h1v1h-1z"/>
<path fill="#135fa7" d="M26 21h1v1h-1zM19 22h1v1h-1zM26 23h1v1h-1z"/>
<path fill="#115da5" d="M21 19h1v1h-1zM24 19h1v1h-1zM26 22h1v1h-1zM22 25h2v1h-2z"/>
<path fill="#0f5aa3" d="M20 24h1v1h-1z"/>
<path fill="#0d57a1" d="M20 20h1v1h-1zM25 24h1v1h-1z"/>
<path fill="#0b559f" d="M22 19h2v1h-2zM25 20h1v1h-1z"/>
<path fill="#084d96" d="M20 23h1v1h-1z"/>
<path fill="#084a92" d="M25 23h1v1h-1zM21 24h1v1h-1zM24 24h1v1h-1z"/>
<path fill="#08488e" d="M20 21h1v1h-1zM25 21h1v1h-1z"/>
<path fill="#08458a" d="M21 20h1v1h-1zM24 20h1v1h-1zM20 22h1v1h-1z"/>
<path fill="#084286" d="M25 22h1v1h-1zM22 24h2v1h-2z"/>
<path fill="#083d7f" d="M22 20h1v1h-1z"/>
<path fill="#083b7b" d="M23 20h1v1h-1zM21 23h1v1h-1z"/>
<path fill="#083877" d="M24 23h1v1h-1z"/>
<path fill="#083573" d="M21 21h1v1h-1zM24 21h1v1h-1z"/>
<path fill="#08336f" d="M21 22h1v1h-1z"/>
<path fill="#08306b" d="M22 21h2v1h-2zM22 22h3v1h-3zM22 23h2v1h-2z"/>
</g>
</g>
<clipPath id="c3"><rect x="999.5" y="173.5" width="340" height="341.5"/></clipPath><g clip-path="url(#c3)">
<g transform="translate(999.00,173.00) scale(7.2500,7.3000)" shape-rendering="crispEdges">
<path fill="#f3f8fe" d="M20 0h1v1h-1zM23 0h1v1h-1zM28 0h1v1h-1zM38 1h1v1h-1zM44 1h1v1h-1zM35 2h1v1h-1zM39 2h1v1h-1zM3 3h1v1h-1zM8 3h1v1h-1zM40 3h1v1h-1zM46 3h1v1h-1zM3 4h1v1h-1zM2 5h1v1h-1zM8 5h1v1h-1zM37 6h1v1h-1zM1 9h1v1h-1zM0 10h1v1h-1zM45 11h2v1h-2zM1 12h2v1h-2zM46 12h1v1h-1zM46 13h1v1h-1zM45 14h1v1h-1zM1 21h1v1h-1zM1 22h1v1h-1zM0 28h1v1h-1zM3 28h1v1h-1zM0 29h1v1h-1zM46 32h1v1h-1zM4 36h1v1h-1zM44 36h1v1h-1zM37 37h1v1h-1zM1 38h1v1h-1zM37 38h1v1h-1zM10 39h1v1h-1zM37 39h1v1h-1zM2 40h1v1h-1zM10 40h1v1h-1zM40 41h1v1h-1zM29 42h2v1h-2zM27 43h2v1h-2zM23 45h1v1h-1zM20 46h1v1h-1zM33 46h1v1h-1z"/>
<path fill="#f1f7fd" d="M8 0h2v1h-2zM22 0h1v1h-1zM29 0h1v1h-1zM38 0h1v1h-1zM40 0h1v1h-1zM8 1h5v1h-5zM20 1h2v1h-2zM24 1h5v1h-5zM35 1h3v1h-3zM40 1h1v1h-1zM2 2h2v1h-2zM6 2h7v1h-7zM25 2h2v1h-2zM40 2h1v1h-1zM0 3h1v1h-1zM4 3h2v1h-2zM25 3h2v1h-2zM34 3h1v1h-1zM45 3h1v1h-1zM5 4h1v1h-1zM9 4h1v1h-1zM34 4h1v1h-1zM41 4h1v1h-1zM46 4h1v1h-1zM3 5h1v1h-1zM9 5h1v1h-1zM40 5h1v1h-1zM46 5h1v1h-1zM0 6h2v1h-2zM6 6h2v1h-2zM36 6h1v1h-1zM38 6h2v1h-2zM44 6h3v1h-3zM0 7h1v1h-1zM15 7h2v1h-2zM44 7h3v1h-3zM1 8h1v1h-1zM42 8h5v1h-5zM42 9h2v1h-2zM45 9h2v1h-2zM2 10h1v1h-1zM45 10h2v1h-2zM0 11h1v1h-1zM3 11h1v1h-1zM44 11h1v1h-1zM0 12h1v1h-1zM3 12h1v1h-1zM44 12h1v1h-1zM1 13h2v1h-2zM44 13h1v1h-1zM6 14h1v1h-1zM44 14h1v1h-1zM46 14h1v1h-1zM6 15h1v1h-1zM45 15h2v1h-2zM5 16h2v1h-2zM46 16h1v1h-1zM5 17h3v1h-3zM46 17h1v1h-1zM0 20h1v1h-1zM46 20h1v1h-1zM0 25h1v1h-1zM0 26h1v1h-1zM46 26h1v1h-1zM0 27h4v1h-4zM1 28h2v1h-2zM4 28h1v1h-1zM1 29h6v1h-6zM0 30h2v1h-2zM5 30h2v1h-2zM0 31h1v1h-1zM43 32h3v1h-3zM42 33h2v1h-2zM41 34h3v1h-3zM2 35h3v1h-3zM41 35h3v1h-3zM2 36h2v1h-2zM5 36h1v1h-1zM36 36h3v1h-3zM42 36h2v1h-2zM0 37h2v1h-2zM4 37h2v1h-2zM36 37h1v1h-1zM38 37h1v1h-1zM44 37h3v1h-3zM5 38h1v1h-1zM9 38h2v1h-2zM36 38h1v1h-1zM38 38h1v1h-1zM46 38h1v1h-1zM9 39h1v1h-1zM11 39h1v1h-1zM39 39h1v1h-1zM41 39h3v1h-3zM5 40h2v1h-2zM9 40h1v1h-1zM11 40h1v1h-1zM36 40h1v1h-1zM40 40h1v1h-1zM3 41h2v1h-2zM8 41h4v1h-4zM30 41h2v1h-2zM8 42h4v1h-4zM16 42h1v1h-1zM33 42h2v1h-2zM43 42h1v1h-1zM8 43h3v1h-3zM17 43h1v1h-1zM22 43h5v1h-5zM43 43h1v1h-1zM46 43h1v1h-1zM2 44h2v1h-2zM8 44h4v1h-4zM21 44h1v1h-1zM44 44h1v1h-1zM46 44h1v1h-1zM2 45h9v1h-9zM13 45h1v1h-1zM20 45h1v1h-1zM30 45h3v1h-3zM44 45h1v1h-1zM2 46h7v1h-7zM14 46h1v1h-1zM17 46h1v1h-1zM22 46h1v1h-1zM24 46h1v1h-1zM30 46h1v1h-1zM45 46h1v1h-1z"/>
<path fill="#eff6fc" d="M4 0h4v1h-4zM10 0h5v1h-5zM18 0h2v1h-2zM30 0h6v1h-6zM37 0h1v1h-1zM43 0h1v1h-1zM3 1h5v1h-5zM13 1h2v1h-2zM19 1h1v1h-1zM22 1h1v1h-1zM29 1h1v1h-1zM32 1h3v1h-3zM1 2h1v1h-1zM4 2h2v1h-2zM13 2h1v1h-1zM27 2h3v1h-3zM34 2h1v1h-1zM44 2h1v1h-1zM9 3h5v1h-5zM27 3h1v1h-1zM41 3h1v1h-1zM44 3h1v1h-1zM4 4h1v1h-1zM10 4h1v1h-1zM25 4h2v1h-2zM45 4h1v1h-1zM4 5h2v1h-2zM10 5h1v1h-1zM34 5h1v1h-1zM41 5h1v1h-1zM44 5h2v1h-2zM2 6h1v1h-1zM8 6h3v1h-3zM14 6h3v1h-3zM35 6h1v1h-1zM40 6h1v1h-1zM1 7h1v1h-1zM6 7h2v1h-2zM10 7h3v1h-3zM14 7h1v1h-1zM17 7h1v1h-1zM36 7h5v1h-5zM43 7h1v1h-1zM7 8h1v1h-1zM10 8h3v1h-3zM15 8h2v1h-2zM41 8h1v1h-1zM2 9h1v1h-1zM9 9h4v1h-4zM41 9h1v1h-1zM44 9h1v1h-1zM3 10h1v1h-1zM8 10h4v1h-4zM42 10h3v1h-3zM8 11h3v1h-3zM43 11h1v1h-1zM0 13h1v1h-1zM3 13h1v1h-1zM6 13h2v1h-2zM0 14h3v1h-3zM7 14h1v1h-1zM0 15h6v1h-6zM7 15h1v1h-1zM44 15h1v1h-1zM0 16h1v1h-1zM4 16h1v1h-1zM7 16h1v1h-1zM45 16h1v1h-1zM0 17h1v1h-1zM4 17h1v1h-1zM45 17h1v1h-1zM0 18h1v1h-1zM5 18h2v1h-2zM45 18h1v1h-1zM0 19h1v1h-1zM45 19h1v1h-1zM1 20h1v1h-1zM41 20h2v1h-2zM2 21h1v1h-1zM42 21h1v1h-1zM2 22h1v1h-1zM1 23h1v1h-1zM42 23h1v1h-1zM1 24h1v1h-1zM42 24h2v1h-2zM43 25h1v1h-1zM45 25h2v1h-2zM1 26h2v1h-2zM44 26h2v1h-2zM4 27h1v1h-1zM5 28h2v1h-2zM7 29h1v1h-1zM2 30h1v1h-1zM4 30h1v1h-1zM7 30h1v1h-1zM45 30h2v1h-2zM1 31h1v1h-1zM5 31h3v1h-3zM45 31h2v1h-2zM0 32h1v1h-1zM6 32h2v1h-2zM40 32h3v1h-3zM7 33h1v1h-1zM39 33h3v1h-3zM3 34h2v1h-2zM40 34h1v1h-1zM5 35h1v1h-1zM40 35h1v1h-1zM1 36h1v1h-1zM6 36h3v1h-3zM35 36h1v1h-1zM39 36h1v1h-1zM41 36h1v1h-1zM2 37h2v1h-2zM6 37h5v1h-5zM35 37h1v1h-1zM39 37h1v1h-1zM42 37h2v1h-2zM2 38h1v1h-1zM4 38h1v1h-1zM6 38h3v1h-3zM11 38h1v1h-1zM39 38h1v1h-1zM42 38h4v1h-4zM2 39h1v1h-1zM5 39h4v1h-4zM12 39h1v1h-1zM36 39h1v1h-1zM40 39h1v1h-1zM44 39h1v1h-1zM3 40h1v1h-1zM7 40h2v1h-2zM12 40h1v1h-1zM30 40h1v1h-1zM44 40h1v1h-1zM12 41h5v1h-5zM29 41h1v1h-1zM35 41h1v1h-1zM44 41h1v1h-1zM17 42h1v1h-1zM28 42h1v1h-1zM44 42h3v1h-3zM18 43h4v1h-4zM44 43h2v1h-2zM18 44h3v1h-3zM45 44h1v1h-1zM11 45h2v1h-2zM18 45h2v1h-2zM45 45h2v1h-2zM9 46h2v1h-2zM12 46h2v1h-2zM18 46h2v1h-2zM23 46h1v1h-1zM31 46h2v1h-2zM46 46h1v1h-1z"/>
<path fill="#edf5fc" d="M3 0h1v1h-1zM15 0h3v1h-3zM36 0h1v1h-1zM41 0h1v1h-1zM1 1h2v1h-2zM15 1h1v1h-1zM18 1h1v1h-1zM23 1h1v1h-1zM30 1h2v1h-2zM41 1h1v1h-1zM43 1h1v1h-1zM0 2h1v1h-1zM14 2h1v1h-1zM19 2h3v1h-3zM24 2h1v1h-1zM30 2h1v1h-1zM32 2h2v1h-2zM41 2h1v1h-1zM24 3h1v1h-1zM28 3h2v1h-2zM32 3h2v1h-2zM42 3h2v1h-2zM11 4h3v1h-3zM27 4h1v1h-1zM32 4h2v1h-2zM42 4h3v1h-3zM11 5h4v1h-4zM26 5h1v1h-1zM31 5h1v1h-1zM33 5h1v1h-1zM43 5h1v1h-1zM3 6h3v1h-3zM11 6h3v1h-3zM17 6h1v1h-1zM31 6h1v1h-1zM34 6h1v1h-1zM41 6h1v1h-1zM43 6h1v1h-1zM2 7h1v1h-1zM5 7h1v1h-1zM8 7h2v1h-2zM13 7h1v1h-1zM35 7h1v1h-1zM41 7h2v1h-2zM2 8h1v1h-1zM5 8h2v1h-2zM8 8h2v1h-2zM13 8h2v1h-2zM17 8h1v1h-1zM37 8h4v1h-4zM3 9h6v1h-6zM13 9h1v1h-1zM15 9h1v1h-1zM40 9h1v1h-1zM4 10h1v1h-1zM7 10h1v1h-1zM12 10h1v1h-1zM41 10h1v1h-1zM4 11h1v1h-1zM7 11h1v1h-1zM11 11h2v1h-2zM4 12h8v1h-8zM37 12h2v1h-2zM43 12h1v1h-1zM4 13h2v1h-2zM8 13h1v1h-1zM37 13h2v1h-2zM43 13h1v1h-1zM3 14h3v1h-3zM8 14h1v1h-1zM38 14h1v1h-1zM43 14h1v1h-1zM8 15h1v1h-1zM43 15h1v1h-1zM1 16h3v1h-3zM8 16h1v1h-1zM43 16h2v1h-2zM1 17h1v1h-1zM8 17h1v1h-1zM4 18h1v1h-1zM7 18h1v1h-1zM1 19h1v1h-1zM41 19h4v1h-4zM5 20h1v1h-1zM43 20h1v1h-1zM45 20h1v1h-1zM3 21h4v1h-4zM41 21h1v1h-1zM43 21h1v1h-1zM3 22h4v1h-4zM41 22h3v1h-3zM2 23h1v1h-1zM41 23h1v1h-1zM43 23h2v1h-2zM41 24h1v1h-1zM44 24h2v1h-2zM1 25h1v1h-1zM41 25h2v1h-2zM44 25h1v1h-1zM3 26h2v1h-2zM42 26h2v1h-2zM5 27h2v1h-2zM42 27h5v1h-5zM7 28h1v1h-1zM44 28h2v1h-2zM8 29h1v1h-1zM44 29h3v1h-3zM3 30h1v1h-1zM8 30h1v1h-1zM44 30h1v1h-1zM4 31h1v1h-1zM8 31h1v1h-1zM40 31h5v1h-5zM1 32h1v1h-1zM5 32h1v1h-1zM8 32h1v1h-1zM39 32h1v1h-1zM0 33h1v1h-1zM4 33h3v1h-3zM8 33h1v1h-1zM38 33h1v1h-1zM1 34h2v1h-2zM5 34h4v1h-4zM38 34h2v1h-2zM1 35h1v1h-1zM6 35h3v1h-3zM37 35h3v1h-3zM0 36h1v1h-1zM9 36h1v1h-1zM40 36h1v1h-1zM11 37h1v1h-1zM40 37h2v1h-2zM3 38h1v1h-1zM12 38h2v1h-2zM35 38h1v1h-1zM41 38h1v1h-1zM3 39h2v1h-2zM13 39h1v1h-1zM45 39h2v1h-2zM4 40h1v1h-1zM13 40h4v1h-4zM29 40h1v1h-1zM31 40h1v1h-1zM32 41h1v1h-1zM45 41h1v1h-1zM18 42h6v1h-6zM25 42h3v1h-3zM11 46h1v1h-1z"/>
<path fill="#ebf3fb" d="M0 0h3v1h-3zM42 0h1v1h-1zM0 1h1v1h-1zM16 1h2v1h-2zM42 1h1v1h-1zM15 2h1v1h-1zM22 2h2v1h-2zM31 2h1v1h-1zM42 2h2v1h-2zM14 3h1v1h-1zM19 3h3v1h-3zM23 3h1v1h-1zM30 3h2v1h-2zM14 4h1v1h-1zM24 4h1v1h-1zM28 4h4v1h-4zM15 5h2v1h-2zM25 5h1v1h-1zM27 5h1v1h-1zM30 5h1v1h-1zM32 5h1v1h-1zM42 5h1v1h-1zM18 6h1v1h-1zM30 6h1v1h-1zM32 6h1v1h-1zM42 6h1v1h-1zM3 7h2v1h-2zM31 7h2v1h-2zM3 8h2v1h-2zM35 8h2v1h-2zM14 9h1v1h-1zM16 9h1v1h-1zM35 9h3v1h-3zM39 9h1v1h-1zM5 10h2v1h-2zM13 10h2v1h-2zM36 10h2v1h-2zM39 10h2v1h-2zM5 11h2v1h-2zM37 11h6v1h-6zM12 12h1v1h-1zM39 12h1v1h-1zM9 13h3v1h-3zM39 13h1v1h-1zM9 14h1v1h-1zM37 14h1v1h-1zM39 14h1v1h-1zM38 15h2v1h-2zM42 15h1v1h-1zM42 16h1v1h-1zM2 17h2v1h-2zM43 17h2v1h-2zM1 18h1v1h-1zM8 18h1v1h-1zM42 18h3v1h-3zM4 19h3v1h-3zM40 19h1v1h-1zM2 20h3v1h-3zM6 20h1v1h-1zM40 20h1v1h-1zM44 20h1v1h-1zM7 21h1v1h-1zM44 21h3v1h-3zM7 22h1v1h-1zM44 22h2v1h-2zM3 23h1v1h-1zM45 23h2v1h-2zM2 24h1v1h-1zM40 24h1v1h-1zM46 24h1v1h-1zM2 25h2v1h-2zM40 25h1v1h-1zM5 26h1v1h-1zM41 26h1v1h-1zM7 27h1v1h-1zM41 27h1v1h-1zM8 28h1v1h-1zM40 28h4v1h-4zM46 28h1v1h-1zM39 29h3v1h-3zM43 29h1v1h-1zM39 30h5v1h-5zM2 31h2v1h-2zM39 31h1v1h-1zM2 32h1v1h-1zM4 32h1v1h-1zM9 32h1v1h-1zM38 32h1v1h-1zM1 33h3v1h-3zM9 33h1v1h-1zM0 34h1v1h-1zM9 34h1v1h-1zM37 34h1v1h-1zM0 35h1v1h-1zM9 35h1v1h-1zM36 35h1v1h-1zM10 36h1v1h-1zM12 37h1v1h-1zM14 38h1v1h-1zM40 38h1v1h-1zM14 39h4v1h-4zM35 39h1v1h-1zM17 40h1v1h-1zM35 40h1v1h-1zM45 40h1v1h-1zM17 41h1v1h-1zM28 41h1v1h-1zM33 41h2v1h-2zM46 41h1v1h-1zM24 42h1v1h-1z"/>
<path fill="#e9f2fb" d="M16 2h3v1h-3zM15 3h1v1h-1zM18 3h1v1h-1zM22 3h1v1h-1zM15 4h1v1h-1zM18 4h2v1h-2zM22 4h2v1h-2zM17 5h2v1h-2zM24 5h1v1h-1zM28 5h2v1h-2zM25 6h3v1h-3zM33 6h1v1h-1zM18 7h1v1h-1zM30 7h1v1h-1zM33 7h2v1h-2zM32 8h3v1h-3zM17 9h1v1h-1zM33 9h2v1h-2zM38 9h1v1h-1zM15 10h1v1h-1zM34 10h2v1h-2zM38 10h1v1h-1zM13 11h1v1h-1zM36 11h1v1h-1zM36 12h1v1h-1zM40 12h1v1h-1zM42 12h1v1h-1zM42 13h1v1h-1zM10 14h1v1h-1zM40 14h1v1h-1zM42 14h1v1h-1zM9 15h1v1h-1zM40 15h2v1h-2zM9 16h1v1h-1zM38 16h4v1h-4zM9 17h1v1h-1zM42 17h1v1h-1zM2 18h2v1h-2zM41 18h1v1h-1zM2 19h2v1h-2zM7 19h1v1h-1zM7 20h1v1h-1zM40 21h1v1h-1zM40 22h1v1h-1zM46 22h1v1h-1zM4 23h3v1h-3zM40 23h1v1h-1zM3 24h1v1h-1zM4 25h1v1h-1zM6 26h2v1h-2zM40 26h1v1h-1zM8 27h1v1h-1zM40 27h1v1h-1zM39 28h1v1h-1zM42 29h1v1h-1zM9 30h1v1h-1zM9 31h1v1h-1zM38 31h1v1h-1zM3 32h1v1h-1zM37 32h1v1h-1zM10 33h1v1h-1zM37 33h1v1h-1zM10 34h1v1h-1zM36 34h1v1h-1zM10 35h1v1h-1zM35 35h1v1h-1zM11 36h2v1h-2zM34 36h1v1h-1zM13 37h1v1h-1zM34 37h1v1h-1zM15 38h3v1h-3zM18 39h1v1h-1zM25 39h2v1h-2zM29 39h3v1h-3zM18 40h1v1h-1zM25 40h2v1h-2zM32 40h1v1h-1zM46 40h1v1h-1zM18 41h10v1h-10z"/>
<path fill="#e7f1fa" d="M16 3h2v1h-2zM16 4h2v1h-2zM20 4h2v1h-2zM19 5h1v1h-1zM22 5h2v1h-2zM19 6h1v1h-1zM24 6h1v1h-1zM28 6h2v1h-2zM18 8h1v1h-1zM30 8h2v1h-2zM32 9h1v1h-1zM16 10h1v1h-1zM33 10h1v1h-1zM14 11h1v1h-1zM35 11h1v1h-1zM13 12h1v1h-1zM41 12h1v1h-1zM12 13h1v1h-1zM36 13h1v1h-1zM40 13h1v1h-1zM11 14h1v1h-1zM41 14h1v1h-1zM10 15h1v1h-1zM37 15h1v1h-1zM39 17h3v1h-3zM9 18h1v1h-1zM39 18h2v1h-2zM8 19h1v1h-1zM39 19h1v1h-1zM8 21h1v1h-1zM8 22h1v1h-1zM7 23h2v1h-2zM4 24h1v1h-1zM39 24h1v1h-1zM8 25h2v1h-2zM39 25h1v1h-1zM8 26h2v1h-2zM9 27h1v1h-1zM39 27h1v1h-1zM9 28h1v1h-1zM9 29h1v1h-1zM38 29h1v1h-1zM38 30h1v1h-1zM10 32h1v1h-1zM36 32h1v1h-1zM36 33h1v1h-1zM11 34h1v1h-1zM35 34h1v1h-1zM11 35h1v1h-1zM34 35h1v1h-1zM13 36h1v1h-1zM14 37h1v1h-1zM18 38h1v1h-1zM26 38h2v1h-2zM34 38h1v1h-1zM27 39h1v1h-1zM32 39h1v1h-1zM34 39h1v1h-1zM19 40h1v1h-1zM24 40h1v1h-1zM27 40h2v1h-2zM34 40h1v1h-1z"/>
<path fill="#e5eff9" d="M23 6h1v1h-1zM19 7h1v1h-1zM24 7h3v1h-3zM29 7h1v1h-1zM31 9h1v1h-1zM32 10h1v1h-1zM15 11h1v1h-1zM34 11h1v1h-1zM35 12h1v1h-1zM41 13h1v1h-1zM36 14h1v1h-1zM10 16h1v1h-1zM37 16h1v1h-1zM10 17h1v1h-1zM38 17h1v1h-1zM8 20h1v1h-1zM39 20h1v1h-1zM39 23h1v1h-1zM5 24h1v1h-1zM7 24h3v1h-3zM5 25h3v1h-3zM10 26h1v1h-1zM39 26h1v1h-1zM10 27h1v1h-1zM38 28h1v1h-1zM10 31h1v1h-1zM37 31h1v1h-1zM11 33h1v1h-1zM35 33h1v1h-1zM12 35h1v1h-1zM33 36h1v1h-1zM15 37h1v1h-1zM33 37h1v1h-1zM19 38h1v1h-1zM25 38h1v1h-1zM29 38h5v1h-5zM19 39h1v1h-1zM24 39h1v1h-1zM28 39h1v1h-1zM33 39h1v1h-1zM20 40h4v1h-4zM33 40h1v1h-1z"/>
<path fill="#e3eef9" d="M20 5h2v1h-2zM22 6h1v1h-1zM27 7h2v1h-2zM19 8h1v1h-1zM29 8h1v1h-1zM18 9h1v1h-1zM17 10h1v1h-1zM33 11h1v1h-1zM14 12h1v1h-1zM13 13h1v1h-1zM35 13h1v1h-1zM12 14h1v1h-1zM11 15h1v1h-1zM36 15h1v1h-1zM38 18h1v1h-1zM9 19h1v1h-1zM39 21h1v1h-1zM39 22h1v1h-1zM9 23h1v1h-1zM6 24h1v1h-1zM10 25h1v1h-1zM10 28h1v1h-1zM10 29h1v1h-1zM10 30h1v1h-1zM36 31h1v1h-1zM11 32h1v1h-1zM35 32h1v1h-1zM12 34h1v1h-1zM34 34h1v1h-1zM13 35h1v1h-1zM14 36h1v1h-1zM16 37h2v1h-2zM32 37h1v1h-1zM20 38h1v1h-1zM24 38h1v1h-1zM28 38h1v1h-1zM20 39h1v1h-1zM23 39h1v1h-1z"/>
<path fill="#e1edf8" d="M20 6h1v1h-1zM23 7h1v1h-1zM27 8h2v1h-2zM30 9h1v1h-1zM31 10h1v1h-1zM16 11h1v1h-1zM32 11h1v1h-1zM34 12h1v1h-1zM35 14h1v1h-1zM11 16h1v1h-1zM37 17h1v1h-1zM10 18h1v1h-1zM38 19h1v1h-1zM9 20h1v1h-1zM38 20h1v1h-1zM9 21h1v1h-1zM9 22h1v1h-1zM38 24h1v1h-1zM38 25h1v1h-1zM38 27h1v1h-1zM37 29h1v1h-1zM37 30h1v1h-1zM12 33h1v1h-1zM34 33h1v1h-1zM13 34h1v1h-1zM33 35h1v1h-1zM32 36h1v1h-1zM18 37h2v1h-2zM26 37h6v1h-6zM21 38h1v1h-1zM21 39h2v1h-2z"/>
<path fill="#dfecf7" d="M21 6h1v1h-1zM20 7h1v1h-1zM25 8h2v1h-2zM19 9h1v1h-1zM29 9h1v1h-1zM18 10h1v1h-1zM15 12h1v1h-1zM14 13h1v1h-1zM34 13h1v1h-1zM12 15h1v1h-1zM35 15h1v1h-1zM36 16h1v1h-1zM11 17h1v1h-1zM37 18h1v1h-1zM38 21h1v1h-1zM38 23h1v1h-1zM10 24h1v1h-1zM38 26h1v1h-1zM37 28h1v1h-1zM11 31h1v1h-1zM35 31h1v1h-1zM34 32h1v1h-1zM33 34h1v1h-1zM14 35h1v1h-1zM15 36h1v1h-1zM31 36h1v1h-1zM20 37h1v1h-1zM25 37h1v1h-1zM22 38h2v1h-2z"/>
<path fill="#ddeaf7" d="M21 7h2v1h-2zM20 8h1v1h-1zM24 8h1v1h-1zM28 9h1v1h-1zM30 10h1v1h-1zM17 11h1v1h-1zM33 12h1v1h-1zM13 14h1v1h-1zM11 18h1v1h-1zM10 19h1v1h-1zM37 19h1v1h-1zM37 20h1v1h-1zM38 22h1v1h-1zM11 28h1v1h-1zM36 30h1v1h-1zM12 32h1v1h-1zM13 33h1v1h-1zM33 33h1v1h-1zM14 34h1v1h-1zM32 35h1v1h-1zM16 36h1v1h-1zM29 36h2v1h-2zM21 37h1v1h-1zM24 37h1v1h-1z"/>
<path fill="#dbe9f6" d="M20 9h1v1h-1zM26 9h2v1h-2zM31 11h1v1h-1zM16 12h1v1h-1zM15 13h1v1h-1zM34 14h1v1h-1zM12 16h1v1h-1zM36 17h1v1h-1zM36 18h1v1h-1zM10 22h1v1h-1zM10 23h1v1h-1zM11 27h1v1h-1zM37 27h1v1h-1zM11 29h1v1h-1zM36 29h1v1h-1zM11 30h1v1h-1zM34 31h1v1h-1zM33 32h1v1h-1zM32 34h1v1h-1zM15 35h1v1h-1zM17 36h2v1h-2zM28 36h1v1h-1zM22 37h2v1h-2z"/>
<path fill="#d9e8f5" d="M21 8h3v1h-3zM29 10h1v1h-1zM32 12h1v1h-1zM33 13h1v1h-1zM14 14h1v1h-1zM13 15h1v1h-1zM34 15h1v1h-1zM35 16h1v1h-1zM12 17h1v1h-1zM36 19h1v1h-1zM10 20h1v1h-1zM10 21h1v1h-1zM37 21h1v1h-1zM37 23h1v1h-1zM37 24h1v1h-1zM37 25h1v1h-1zM11 26h1v1h-1zM37 26h1v1h-1zM36 28h1v1h-1zM35 30h1v1h-1zM12 31h1v1h-1zM13 32h1v1h-1zM14 33h1v1h-1zM31 35h1v1h-1zM19 36h2v1h-2zM27 36h1v1h-1z"/>
<path fill="#d7e7f5" d="M25 9h1v1h-1zM19 10h1v1h-1zM27 10h2v1h-2zM18 11h1v1h-1zM30 11h1v1h-1zM17 12h1v1h-1zM35 17h1v1h-1zM11 19h1v1h-1zM36 20h1v1h-1zM37 22h1v1h-1zM11 25h1v1h-1zM32 33h1v1h-1zM15 34h1v1h-1zM16 35h1v1h-1zM30 35h1v1h-1zM26 36h1v1h-1z"/>
<path fill="#d5e5f4" d="M21 9h1v1h-1zM26 10h1v1h-1zM31 12h1v1h-1zM16 13h1v1h-1zM15 14h1v1h-1zM33 14h1v1h-1zM13 16h1v1h-1zM34 16h1v1h-1zM12 18h1v1h-1zM35 18h1v1h-1zM36 27h1v1h-1zM12 30h1v1h-1zM31 34h1v1h-1zM17 35h1v1h-1zM29 35h1v1h-1zM21 36h1v1h-1zM24 36h2v1h-2z"/>
<path fill="#d3e4f3" d="M22 9h1v1h-1zM24 9h1v1h-1zM20 10h1v1h-1zM28 11h2v1h-2zM32 13h1v1h-1zM14 15h1v1h-1zM35 19h1v1h-1zM11 24h1v1h-1zM36 25h1v1h-1zM36 26h1v1h-1zM35 29h1v1h-1zM34 30h1v1h-1zM13 31h1v1h-1zM33 31h1v1h-1zM14 32h1v1h-1zM32 32h1v1h-1zM15 33h1v1h-1zM16 34h1v1h-1zM18 35h1v1h-1zM22 36h2v1h-2z"/>
<path fill="#d2e3f3" d="M23 9h1v1h-1zM25 10h1v1h-1zM19 11h1v1h-1zM27 11h1v1h-1zM18 12h1v1h-1zM30 12h1v1h-1zM33 15h1v1h-1zM13 17h1v1h-1zM12 19h1v1h-1zM11 20h1v1h-1zM36 21h1v1h-1zM11 22h1v1h-1zM11 23h1v1h-1zM36 24h1v1h-1zM12 28h1v1h-1zM35 28h1v1h-1zM12 29h1v1h-1zM30 34h1v1h-1zM19 35h1v1h-1zM28 35h1v1h-1z"/>
<path fill="#d0e1f2" d="M21 10h1v1h-1zM29 12h1v1h-1zM17 13h1v1h-1zM31 13h1v1h-1zM16 14h1v1h-1zM32 14h1v1h-1zM34 17h1v1h-1zM11 21h1v1h-1zM36 22h1v1h-1zM36 23h1v1h-1zM31 33h1v1h-1zM17 34h1v1h-1z"/>
<path fill="#cee0f2" d="M24 10h1v1h-1zM26 11h1v1h-1zM28 12h1v1h-1zM15 15h1v1h-1zM14 16h1v1h-1zM33 16h1v1h-1zM13 18h1v1h-1zM34 18h1v1h-1zM35 20h1v1h-1zM12 27h1v1h-1zM35 27h1v1h-1zM14 31h1v1h-1zM15 32h1v1h-1zM16 33h1v1h-1zM20 35h1v1h-1zM24 35h1v1h-1zM27 35h1v1h-1z"/>
<path fill="#ccdff1" d="M22 10h1v1h-1zM30 13h1v1h-1zM31 14h1v1h-1zM32 15h1v1h-1zM12 20h1v1h-1zM35 25h1v1h-1zM35 26h1v1h-1zM34 29h1v1h-1zM13 30h1v1h-1zM32 31h1v1h-1zM18 34h1v1h-1zM29 34h1v1h-1zM25 35h2v1h-2z"/>
<path fill="#cadef0" d="M23 10h1v1h-1zM20 11h1v1h-1zM25 11h1v1h-1zM19 12h1v1h-1zM27 12h1v1h-1zM18 13h1v1h-1zM34 19h1v1h-1zM35 24h1v1h-1zM12 26h1v1h-1zM33 30h1v1h-1zM31 32h1v1h-1zM21 35h3v1h-3z"/>
<path fill="#c8dcf0" d="M29 13h1v1h-1zM17 14h1v1h-1zM16 15h1v1h-1zM14 17h1v1h-1zM33 17h1v1h-1zM13 19h1v1h-1zM12 21h1v1h-1zM35 21h1v1h-1zM12 22h1v1h-1zM12 24h1v1h-1zM12 25h1v1h-1zM13 29h1v1h-1zM17 33h1v1h-1zM30 33h1v1h-1z"/>
<path fill="#c6dbef" d="M21 11h1v1h-1zM24 11h1v1h-1zM30 14h1v1h-1zM31 15h1v1h-1zM15 16h1v1h-1zM32 16h1v1h-1zM12 23h1v1h-1zM35 23h1v1h-1zM34 28h1v1h-1zM14 30h1v1h-1zM15 31h1v1h-1zM16 32h1v1h-1zM19 34h1v1h-1zM28 34h1v1h-1z"/>
<path fill="#c3daee" d="M22 11h2v1h-2zM26 12h1v1h-1zM28 13h1v1h-1zM33 18h1v1h-1zM13 20h1v1h-1zM35 22h1v1h-1zM13 28h1v1h-1z"/>
<path fill="#c0d8ed" d="M20 12h1v1h-1zM14 18h1v1h-1zM34 20h1v1h-1zM13 27h1v1h-1zM34 27h1v1h-1z"/>
<path fill="#bcd7ec" d="M25 12h1v1h-1zM19 13h1v1h-1zM18 14h1v1h-1zM29 14h1v1h-1zM13 21h1v1h-1zM34 25h1v1h-1zM34 26h1v1h-1zM33 29h1v1h-1zM32 30h1v1h-1zM31 31h1v1h-1zM18 33h1v1h-1zM29 33h1v1h-1zM20 34h1v1h-1zM24 34h2v1h-2zM27 34h1v1h-1z"/>
<path fill="#b9d6eb" d="M27 13h1v1h-1zM17 15h1v1h-1zM30 15h1v1h-1zM16 16h1v1h-1zM31 16h1v1h-1zM32 17h1v1h-1zM33 19h1v1h-1zM13 22h1v1h-1zM34 24h1v1h-1zM13 26h1v1h-1zM14 29h1v1h-1zM15 30h1v1h-1zM16 31h1v1h-1zM17 32h1v1h-1zM30 32h1v1h-1zM23 34h1v1h-1zM26 34h1v1h-1z"/>
<path fill="#b6d4e9" d="M21 12h1v1h-1zM24 12h1v1h-1zM15 17h1v1h-1zM14 19h1v1h-1zM34 21h1v1h-1zM13 23h1v1h-1zM13 24h1v1h-1zM13 25h1v1h-1zM21 34h2v1h-2z"/>
<path fill="#b3d3e8" d="M22 12h2v1h-2zM34 23h1v1h-1zM14 28h1v1h-1zM33 28h1v1h-1z"/>
<path fill="#b0d1e7" d="M20 13h1v1h-1zM28 14h1v1h-1zM32 18h1v1h-1zM14 20h1v1h-1zM34 22h1v1h-1zM19 33h1v1h-1zM28 33h1v1h-1z"/>
<path fill="#acd0e6" d="M26 13h1v1h-1zM19 14h1v1h-1zM33 20h1v1h-1zM14 21h1v1h-1zM14 27h1v1h-1zM15 29h1v1h-1zM32 29h1v1h-1z"/>
<path fill="#a9cfe5" d="M18 15h1v1h-1zM29 15h1v1h-1zM30 16h1v1h-1zM31 17h1v1h-1zM15 18h1v1h-1zM33 27h1v1h-1zM16 30h1v1h-1zM31 30h1v1h-1zM29 32h1v1h-1z"/>
<path fill="#a6cde4" d="M21 13h1v1h-1zM25 13h1v1h-1zM17 16h1v1h-1zM16 17h1v1h-1zM14 22h1v1h-1zM33 25h1v1h-1zM14 26h1v1h-1zM33 26h1v1h-1zM17 31h1v1h-1zM30 31h1v1h-1zM18 32h1v1h-1zM20 33h1v1h-1zM27 33h1v1h-1z"/>
<path fill="#a3cce3" d="M24 13h1v1h-1zM27 14h1v1h-1zM32 19h1v1h-1zM14 23h1v1h-1zM14 24h1v1h-1zM33 24h1v1h-1zM14 25h1v1h-1zM32 28h1v1h-1zM24 33h3v1h-3z"/>
<path fill="#a0cbe2" d="M22 13h2v1h-2zM15 19h1v1h-1zM33 21h1v1h-1zM33 23h1v1h-1zM15 28h1v1h-1zM21 33h1v1h-1z"/>
<path fill="#9cc9e1" d="M20 14h1v1h-1zM28 15h1v1h-1zM33 22h1v1h-1zM16 29h1v1h-1zM31 29h1v1h-1zM22 33h2v1h-2z"/>
<path fill="#98c7e0" d="M19 15h1v1h-1zM31 18h1v1h-1zM15 20h1v1h-1zM15 27h1v1h-1zM28 32h1v1h-1z"/>
<path fill="#94c4df" d="M26 14h1v1h-1zM18 16h1v1h-1zM29 16h1v1h-1zM30 17h1v1h-1zM16 18h1v1h-1zM32 20h1v1h-1zM32 27h1v1h-1zM17 30h1v1h-1zM19 32h1v1h-1z"/>
<path fill="#90c2de" d="M17 17h1v1h-1zM15 21h1v1h-1zM15 26h1v1h-1zM31 28h1v1h-1zM30 30h1v1h-1zM29 31h1v1h-1z"/>
<path fill="#8cc0dd" d="M21 14h1v1h-1zM25 14h1v1h-1zM27 15h1v1h-1zM15 22h1v1h-1zM15 25h1v1h-1zM32 26h1v1h-1zM16 28h1v1h-1zM18 31h1v1h-1z"/>
<path fill="#88bedc" d="M15 23h1v1h-1zM15 24h1v1h-1zM32 25h1v1h-1zM20 32h1v1h-1zM27 32h1v1h-1z"/>
<path fill="#83bbdb" d="M22 14h3v1h-3zM20 15h1v1h-1zM19 16h1v1h-1zM16 19h1v1h-1zM31 19h1v1h-1zM32 21h1v1h-1zM32 24h1v1h-1zM21 32h1v1h-1zM26 32h1v1h-1z"/>
<path fill="#7fb9da" d="M28 16h1v1h-1zM32 23h1v1h-1zM31 27h1v1h-1zM17 29h1v1h-1zM30 29h1v1h-1zM25 32h1v1h-1z"/>
<path fill="#7bb7da" d="M26 15h1v1h-1zM18 17h1v1h-1zM29 17h1v1h-1zM17 18h1v1h-1zM30 18h1v1h-1zM32 22h1v1h-1zM16 27h1v1h-1zM28 31h1v1h-1zM22 32h3v1h-3z"/>
<path fill="#77b5d9" d="M29 30h1v1h-1z"/>
<path fill="#73b2d8" d="M16 20h1v1h-1zM31 20h1v1h-1zM18 30h1v1h-1zM19 31h1v1h-1z"/>
<path fill="#6fb0d7" d="M21 15h1v1h-1zM25 15h1v1h-1zM27 16h1v1h-1zM16 26h1v1h-1zM17 28h1v1h-1zM30 28h1v1h-1z"/>
<path fill="#6baed6" d="M24 15h1v1h-1zM20 16h1v1h-1zM16 21h1v1h-1zM31 26h1v1h-1zM20 31h1v1h-1zM27 31h1v1h-1z"/>
<path fill="#68acd5" d="M22 15h2v1h-2zM19 17h1v1h-1zM16 22h1v1h-1zM16 23h1v1h-1zM16 24h1v1h-1zM16 25h1v1h-1z"/>
<path fill="#64aad3" d="M28 17h1v1h-1zM18 18h1v1h-1zM17 19h1v1h-1zM30 19h1v1h-1zM31 21h1v1h-1zM31 25h1v1h-1zM18 29h1v1h-1zM28 30h1v1h-1zM21 31h1v1h-1z"/>
<path fill="#61a7d2" d="M26 16h1v1h-1zM29 18h1v1h-1zM29 29h1v1h-1zM26 31h1v1h-1z"/>
<path fill="#5ea5d1" d="M31 22h1v1h-1zM31 23h1v1h-1zM31 24h1v1h-1zM17 27h1v1h-1zM30 27h1v1h-1zM19 30h1v1h-1zM22 31h1v1h-1zM25 31h1v1h-1z"/>
<path fill="#5ba3d0" d="M21 16h1v1h-1zM23 31h2v1h-2z"/>
<path fill="#57a1ce" d="M25 16h1v1h-1zM20 17h1v1h-1zM17 20h1v1h-1zM30 20h1v1h-1z"/>
<path fill="#549ecd" d="M27 17h1v1h-1zM18 28h1v1h-1zM27 30h1v1h-1z"/>
<path fill="#519ccc" d="M24 16h1v1h-1zM19 18h1v1h-1zM17 26h1v1h-1zM20 30h1v1h-1z"/>
<path fill="#4d9aca" d="M22 16h2v1h-2zM28 18h1v1h-1zM18 19h1v1h-1zM29 19h1v1h-1zM17 21h1v1h-1zM30 26h1v1h-1zM29 28h1v1h-1zM19 29h1v1h-1z"/>
<path fill="#4a98c9" d="M30 21h1v1h-1zM17 22h1v1h-1zM17 25h1v1h-1zM28 29h1v1h-1zM21 30h1v1h-1z"/>
<path fill="#4795c8" d="M17 23h1v1h-1zM17 24h1v1h-1zM26 30h1v1h-1z"/>
<path fill="#4493c7" d="M21 17h1v1h-1zM26 17h1v1h-1zM18 27h1v1h-1zM22 30h1v1h-1z"/>
<path fill="#4191c5" d="M30 22h1v1h-1zM30 25h1v1h-1zM25 30h1v1h-1z"/>
<path fill="#3e8ec4" d="M20 18h1v1h-1zM18 20h1v1h-1zM29 20h1v1h-1zM30 23h1v1h-1zM29 27h1v1h-1zM19 28h1v1h-1zM20 29h1v1h-1zM23 30h2v1h-2z"/>
<path fill="#3b8bc3" d="M25 17h1v1h-1zM27 18h1v1h-1zM28 19h1v1h-1zM30 24h1v1h-1z"/>
<path fill="#3989c1" d="M22 17h1v1h-1zM19 19h1v1h-1zM27 29h1v1h-1z"/>
<path fill="#3686c0" d="M24 17h1v1h-1zM18 26h1v1h-1zM21 29h1v1h-1z"/>
<path fill="#3383bf" d="M23 17h1v1h-1zM18 21h1v1h-1zM29 21h1v1h-1zM28 28h1v1h-1z"/>
<path fill="#3181bd" d="M18 22h1v1h-1zM18 25h1v1h-1zM29 26h1v1h-1z"/>
<path fill="#2e7ebc" d="M21 18h1v1h-1zM26 18h1v1h-1zM27 19h1v1h-1zM28 20h1v1h-1zM19 27h1v1h-1zM20 28h1v1h-1zM22 29h1v1h-1zM26 29h1v1h-1z"/>
<path fill="#2c7cba" d="M18 23h1v1h-1zM18 24h1v1h-1z"/>
<path fill="#2979b9" d="M20 19h1v1h-1zM19 20h1v1h-1zM29 22h1v1h-1zM23 29h1v1h-1zM25 29h1v1h-1z"/>
<path fill="#2676b8" d="M24 29h1v1h-1z"/>
<path fill="#2474b6" d="M22 18h1v1h-1zM25 18h1v1h-1zM29 25h1v1h-1zM28 27h1v1h-1zM27 28h1v1h-1z"/>
<path fill="#2171b5" d="M29 23h1v1h-1zM29 24h1v1h-1zM19 26h1v1h-1zM21 28h1v1h-1z"/>
<path fill="#1f6eb3" d="M23 18h2v1h-2zM27 20h1v1h-1zM19 21h1v1h-1zM28 21h1v1h-1zM20 27h1v1h-1z"/>
<path fill="#1d6cb1" d="M21 19h1v1h-1zM26 19h1v1h-1z"/>
<path fill="#1b69af" d="M19 25h1v1h-1zM22 28h1v1h-1zM26 28h1v1h-1z"/>
<path fill="#1967ad" d="M20 20h1v1h-1zM19 22h1v1h-1zM28 26h1v1h-1z"/>
<path fill="#1764ab" d="M28 22h1v1h-1zM19 23h1v1h-1zM19 24h1v1h-1z"/>
<path fill="#1562a9" d="M23 28h1v1h-1zM25 28h1v1h-1z"/>
<path fill="#135fa7" d="M22 19h1v1h-1zM25 19h1v1h-1zM27 21h1v1h-1zM20 26h1v1h-1zM21 27h1v1h-1zM27 27h1v1h-1zM24 28h1v1h-1z"/>
<path fill="#115da5" d="M26 20h1v1h-1zM28 23h1v1h-1zM28 25h1v1h-1z"/>
<path fill="#0f5aa3" d="M23 19h2v1h-2zM21 20h1v1h-1zM20 21h1v1h-1zM28 24h1v1h-1z"/>
<path fill="#0b559f" d="M20 25h1v1h-1zM26 27h1v1h-1z"/>
<path fill="#09529d" d="M20 22h1v1h-1zM27 22h1v1h-1zM27 26h1v1h-1zM22 27h1v1h-1z"/>
<path fill="#08509a" d="M22 20h1v1h-1zM25 20h1v1h-1zM21 26h1v1h-1z"/>
<path fill="#084d96" d="M21 21h1v1h-1zM26 21h1v1h-1zM20 23h1v1h-1zM20 24h1v1h-1zM25 27h1v1h-1z"/>
<path fill="#084a92" d="M27 23h1v1h-1zM27 25h1v1h-1zM23 27h2v1h-2z"/>
<path fill="#08488e" d="M23 20h1v1h-1zM27 24h1v1h-1z"/>
<path fill="#08458a" d="M24 20h1v1h-1zM26 26h1v1h-1z"/>
<path fill="#084286" d="M21 25h1v1h-1zM22 26h1v1h-1z"/>
<path fill="#084083" d="M22 21h1v1h-1zM21 22h1v1h-1zM26 22h1v1h-1z"/>
<path fill="#083d7f" d="M25 21h1v1h-1zM21 24h1v1h-1zM26 25h1v1h-1zM25 26h1v1h-1z"/>
<path fill="#083b7b" d="M21 23h1v1h-1zM23 26h1v1h-1z"/>
<path fill="#083877" d="M26 23h1v1h-1zM26 24h1v1h-1zM22 25h1v1h-1zM24 26h1v1h-1z"/>
<path fill="#083573" d="M23 21h2v1h-2z"/>
<path fill="#08336f" d="M22 22h1v1h-1zM25 25h1v1h-1z"/>
<path fill="#08306b" d="M23 22h3v1h-3zM22 23h4v1h-4zM22 24h4v1h-4zM23 25h2v1h-2z"/>
</g>
</g>
<text x="281.0" y="37.7" font-size="20" text-anchor="middle" textLength="181" lengthAdjust="spacingAndGlyphs">Integrated intensity</text>
<text x="281.0" y="61.4" font-size="20" text-anchor="middle" textLength="181" lengthAdjust="spacingAndGlyphs">(mJy beam<tspan dy="-8.5" font-size="13">−1</tspan><tspan dy="8.5"> km s</tspan><tspan dy="-8.5" font-size="13">−1</tspan><tspan dy="8.5">)</tspan></text>
<rect x="110.5" y="131.5" width="341" height="17" fill="url(#gb)" stroke="#000" stroke-width="1.1"/>
<rect x="110.5" y="173.5" width="341" height="342" fill="none" stroke="#000" stroke-width="1.1"/>
<text x="110.4" y="117.0" font-size="16.5" text-anchor="middle" >0</text>
<text x="188.8" y="117.0" font-size="16.5" text-anchor="middle" >20</text>
<text x="267.4" y="117.0" font-size="16.5" text-anchor="middle" >40</text>
<text x="346.0" y="117.0" font-size="16.5" text-anchor="middle" >60</text>
<text x="425.2" y="117.0" font-size="16.5" text-anchor="middle" >80</text>
<text x="147.4" y="542.0" font-size="16.5" text-anchor="middle" >15</text>
<text x="95.2" y="216.4" font-size="16.5" text-anchor="end" >15</text>
<text x="191.9" y="542.0" font-size="16.5" text-anchor="middle" >10</text>
<text x="95.2" y="261.1" font-size="16.5" text-anchor="end" >10</text>
<text x="236.5" y="542.0" font-size="16.5" text-anchor="middle" >5</text>
<text x="95.2" y="305.8" font-size="16.5" text-anchor="end" >5</text>
<text x="281.0" y="542.0" font-size="16.5" text-anchor="middle" >0</text>
<text x="95.2" y="350.4" font-size="16.5" text-anchor="end" >0</text>
<text x="325.5" y="542.0" font-size="16.5" text-anchor="middle" >−5</text>
<text x="95.2" y="395.0" font-size="16.5" text-anchor="end" >−5</text>
<text x="370.1" y="542.0" font-size="16.5" text-anchor="middle" >−10</text>
<text x="95.2" y="439.7" font-size="16.5" text-anchor="end" >−10</text>
<text x="414.6" y="542.0" font-size="16.5" text-anchor="middle" >−15</text>
<text x="95.2" y="484.3" font-size="16.5" text-anchor="end" >−15</text>
<path d="M110.4 126V131.5M188.8 126V131.5M267.4 126V131.5M346.0 126V131.5M425.2 126V131.5M147.4 510V521M104.5 210.4H115.5M191.9 510V521M104.5 255.1H115.5M236.5 510V521M104.5 299.8H115.5M281.0 510V521M104.5 344.4H115.5M325.5 510V521M104.5 389.0H115.5M370.1 510V521M104.5 433.7H115.5M414.6 510V521M104.5 478.3H115.5" stroke="#000" stroke-width="1.1" fill="none"/>
<text x="281.0" y="574.8" font-size="20" text-anchor="middle" textLength="120" lengthAdjust="spacingAndGlyphs">ΔRA (10<tspan dy="-9.3" font-size="13.5">3</tspan><tspan dy="9.3"> km)</tspan></text>
<text font-size="20" text-anchor="middle" textLength="129" lengthAdjust="spacingAndGlyphs" transform="translate(53.4,342.9) rotate(-90)">ΔDec (10<tspan dy="-9.3" font-size="13.5">3</tspan><tspan dy="9.3"> km)</tspan></text>
<text x="118.0" y="195.8" font-size="16.5" textLength="232.5" lengthAdjust="spacingAndGlyphs">HDO: 241.5604–241.5624 GHz</text>
<text x="276.4" y="349.6" font-size="16.5" text-anchor="middle" fill="#fff" >X</text>
<path d="M412.5 430.8L355.9 452.7" stroke="#000" stroke-width="2.9" fill="none"/><path d="M349.6 455.2L362.4 455.5L357.3 452.2L358.8 446.4Z" fill="#000"/>
<path d="M411.0 433.4L358.9 462.1" stroke="#808080" stroke-width="2.8" fill="none"/><path d="M352.9 465.4L365.6 464.0L360.2 461.4L360.9 455.4Z" fill="#808080"/>
<text font-size="20" transform="translate(334.0,455.6) scale(0.93,1)">T</text>
<text x="338.3" y="480.7" font-size="19.8" fill="#808080" >S</text>
<text x="725.5" y="37.7" font-size="20" text-anchor="middle" textLength="181" lengthAdjust="spacingAndGlyphs">Integrated intensity</text>
<text x="725.5" y="61.4" font-size="20" text-anchor="middle" textLength="181" lengthAdjust="spacingAndGlyphs">(mJy beam<tspan dy="-8.5" font-size="13">−1</tspan><tspan dy="8.5"> km s</tspan><tspan dy="-8.5" font-size="13">−1</tspan><tspan dy="8.5">)</tspan></text>
<rect x="554.5" y="131.5" width="342" height="17" fill="url(#gb)" stroke="#000" stroke-width="1.1"/>
<rect x="554.5" y="173.5" width="342" height="342" fill="none" stroke="#000" stroke-width="1.1"/>
<text font-size="17.5" transform="translate(554.3,118.6) rotate(-45)">0</text>
<text font-size="17.5" transform="translate(604.2,118.6) rotate(-45)">500</text>
<text font-size="17.5" transform="translate(654.1,118.6) rotate(-45)">1,000</text>
<text font-size="17.5" transform="translate(704.8,118.6) rotate(-45)">1,500</text>
<text font-size="17.5" transform="translate(755.0,118.6) rotate(-45)">2,000</text>
<text font-size="17.5" transform="translate(804.8,118.6) rotate(-45)">2,500</text>
<text font-size="17.5" transform="translate(855.2,118.6) rotate(-45)">3,000</text>
<text x="591.4" y="542.0" font-size="16.5" text-anchor="middle" >15</text>
<text x="539.2" y="216.4" font-size="16.5" text-anchor="end" >15</text>
<text x="635.9" y="542.0" font-size="16.5" text-anchor="middle" >10</text>
<text x="539.2" y="261.1" font-size="16.5" text-anchor="end" >10</text>
<text x="680.5" y="542.0" font-size="16.5" text-anchor="middle" >5</text>
<text x="539.2" y="305.8" font-size="16.5" text-anchor="end" >5</text>
<text x="725.0" y="542.0" font-size="16.5" text-anchor="middle" >0</text>
<text x="539.2" y="350.4" font-size="16.5" text-anchor="end" >0</text>
<text x="769.5" y="542.0" font-size="16.5" text-anchor="middle" >−5</text>
<text x="539.2" y="395.0" font-size="16.5" text-anchor="end" >−5</text>
<text x="814.1" y="542.0" font-size="16.5" text-anchor="middle" >−10</text>
<text x="539.2" y="439.7" font-size="16.5" text-anchor="end" >−10</text>
<text x="858.6" y="542.0" font-size="16.5" text-anchor="middle" >−15</text>
<text x="539.2" y="484.3" font-size="16.5" text-anchor="end" >−15</text>
<path d="M554.5 126V131.5M604.4 126V131.5M654.3 126V131.5M705.0 126V131.5M755.2 126V131.5M805.0 126V131.5M855.4 126V131.5M591.4 510V521M548.5 210.4H559.5M635.9 510V521M548.5 255.1H559.5M680.5 510V521M548.5 299.8H559.5M725.0 510V521M548.5 344.4H559.5M769.5 510V521M548.5 389.0H559.5M814.1 510V521M548.5 433.7H559.5M858.6 510V521M548.5 478.3H559.5" stroke="#000" stroke-width="1.1" fill="none"/>
<text x="725.5" y="574.8" font-size="20" text-anchor="middle" textLength="120" lengthAdjust="spacingAndGlyphs">ΔRA (10<tspan dy="-9.3" font-size="13.5">3</tspan><tspan dy="9.3"> km)</tspan></text>
<text font-size="20" text-anchor="middle" textLength="129" lengthAdjust="spacingAndGlyphs" transform="translate(497.4,342.9) rotate(-90)">ΔDec (10<tspan dy="-9.3" font-size="13.5">3</tspan><tspan dy="9.3"> km)</tspan></text>
<text x="561.8" y="195.8" font-size="16.5" textLength="234" lengthAdjust="spacingAndGlyphs">CH<tspan dy="5.5" font-size="11.5">3</tspan><tspan dy="-5.5">OH: 241.690–241.912 GHz</tspan></text>
<text x="725.8" y="338.7" font-size="16.5" text-anchor="middle" fill="#fff" >X</text>
<path d="M856.5 430.8L799.9 452.7" stroke="#000" stroke-width="2.9" fill="none"/><path d="M793.6 455.2L806.4 455.5L801.3 452.2L802.8 446.4Z" fill="#000"/>
<path d="M855.0 433.4L802.9 462.1" stroke="#808080" stroke-width="2.8" fill="none"/><path d="M796.9 465.4L809.6 464.0L804.2 461.4L804.9 455.4Z" fill="#808080"/>
<text font-size="20" transform="translate(776.0,455.6) scale(0.93,1)">T</text>
<text x="780.3" y="480.7" font-size="19.8" fill="#808080" >S</text>
<text x="1170.0" y="37.7" font-size="20" text-anchor="middle" textLength="181" lengthAdjust="spacingAndGlyphs">Integrated intensity</text>
<text x="1170.0" y="61.4" font-size="20" text-anchor="middle" textLength="181" lengthAdjust="spacingAndGlyphs">(mJy beam<tspan dy="-8.5" font-size="13">−1</tspan><tspan dy="8.5"> km s</tspan><tspan dy="-8.5" font-size="13">−1</tspan><tspan dy="8.5">)</tspan></text>
<rect x="999.5" y="131.5" width="341" height="17" fill="url(#gb)" stroke="#000" stroke-width="1.1"/>
<rect x="999.5" y="173.5" width="341" height="342" fill="none" stroke="#000" stroke-width="1.1"/>
<text font-size="17.5" transform="translate(999.4,118.6) rotate(-45)">0</text>
<text font-size="17.5" transform="translate(1071.0,118.6) rotate(-45)">500</text>
<text font-size="17.5" transform="translate(1142.9,118.6) rotate(-45)">1,000</text>
<text font-size="17.5" transform="translate(1216.1,118.6) rotate(-45)">1,500</text>
<text font-size="17.5" transform="translate(1288.3,118.6) rotate(-45)">2,000</text>
<text x="1036.4" y="542.0" font-size="16.5" text-anchor="middle" >15</text>
<text x="984.2" y="216.4" font-size="16.5" text-anchor="end" >15</text>
<text x="1080.9" y="542.0" font-size="16.5" text-anchor="middle" >10</text>
<text x="984.2" y="261.1" font-size="16.5" text-anchor="end" >10</text>
<text x="1125.5" y="542.0" font-size="16.5" text-anchor="middle" >5</text>
<text x="984.2" y="305.8" font-size="16.5" text-anchor="end" >5</text>
<text x="1170.0" y="542.0" font-size="16.5" text-anchor="middle" >0</text>
<text x="984.2" y="350.4" font-size="16.5" text-anchor="end" >0</text>
<text x="1214.5" y="542.0" font-size="16.5" text-anchor="middle" >−5</text>
<text x="984.2" y="395.0" font-size="16.5" text-anchor="end" >−5</text>
<text x="1259.1" y="542.0" font-size="16.5" text-anchor="middle" >−10</text>
<text x="984.2" y="439.7" font-size="16.5" text-anchor="end" >−10</text>
<text x="1303.6" y="542.0" font-size="16.5" text-anchor="middle" >−15</text>
<text x="984.2" y="484.3" font-size="16.5" text-anchor="end" >−15</text>
<path d="M999.6 126V131.5M1071.2 126V131.5M1143.1 126V131.5M1216.3 126V131.5M1288.5 126V131.5M1036.4 510V521M993.5 210.4H1004.5M1080.9 510V521M993.5 255.1H1004.5M1125.5 510V521M993.5 299.8H1004.5M1170.0 510V521M993.5 344.4H1004.5M1214.5 510V521M993.5 389.0H1004.5M1259.1 510V521M993.5 433.7H1004.5M1303.6 510V521M993.5 478.3H1004.5" stroke="#000" stroke-width="1.1" fill="none"/>
<text x="1170.0" y="574.8" font-size="20" text-anchor="middle" textLength="120" lengthAdjust="spacingAndGlyphs">ΔRA (10<tspan dy="-9.3" font-size="13.5">3</tspan><tspan dy="9.3"> km)</tspan></text>
<text font-size="20" text-anchor="middle" textLength="129" lengthAdjust="spacingAndGlyphs" transform="translate(942.4,342.9) rotate(-90)">ΔDec (10<tspan dy="-9.3" font-size="13.5">3</tspan><tspan dy="9.3"> km)</tspan></text>
<text x="1011.7" y="195.8" font-size="16.5" textLength="237.5" lengthAdjust="spacingAndGlyphs">CH<tspan dy="5.5" font-size="11.5">3</tspan><tspan dy="-5.5">OH: 193.407–193.523 GHz</tspan></text>
<text x="1170.3" y="350.7" font-size="16.5" text-anchor="middle" fill="#fff" >X</text>
<path d="M1301.5 430.8L1244.9 452.7" stroke="#000" stroke-width="2.9" fill="none"/><path d="M1238.6 455.2L1251.4 455.5L1246.3 452.2L1247.8 446.4Z" fill="#000"/>
<path d="M1300.0 433.4L1247.9 462.1" stroke="#808080" stroke-width="2.8" fill="none"/><path d="M1241.9 465.4L1254.6 464.0L1249.2 461.4L1249.9 455.4Z" fill="#808080"/>
<text font-size="20" transform="translate(1226.0,455.6) scale(0.93,1)">T</text>
<text x="1230.3" y="480.7" font-size="19.8" fill="#808080" >S</text>
<ellipse cx="168" cy="448.4" rx="42.9" ry="33.4" transform="rotate(13.5 168 448.4)" fill="#808080" stroke="#fff" stroke-width="1"/>
<ellipse cx="612.4" cy="448.4" rx="42.9" ry="33.4" transform="rotate(13.5 612.4 448.4)" fill="#808080" stroke="#fff" stroke-width="1"/>
<ellipse cx="1056.9" cy="448.1" rx="51.4" ry="60.8" transform="rotate(26.1 1056.9 448.1)" fill="#808080" stroke="#fff" stroke-width="1.2"/>
</svg></body></html>
